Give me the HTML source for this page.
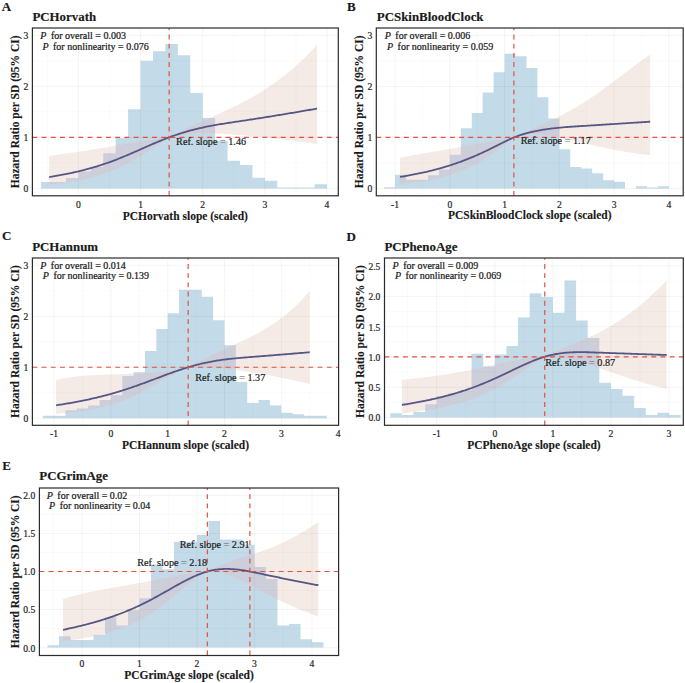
<!DOCTYPE html>
<html><head><meta charset="utf-8"><style>
html,body{margin:0;padding:0;background:#fff;}
svg{display:block;}
</style></head><body>
<svg width="685" height="683" viewBox="0 0 685 683">
<rect width="685" height="683" fill="#ffffff"/>
<clipPath id="clip0"><rect x="32.4" y="28" width="305.9" height="167.8"/></clipPath>
<g clip-path="url(#clip0)">
<path d="M41.11 188.4V182.02H53.54V188.4ZM53.54 188.4V182.02H65.97V188.4ZM65.97 188.4V177.94H78.4V188.4ZM78.4 188.4V171.56H90.83V188.4ZM90.83 188.4V166.97H103.26V188.4ZM103.26 188.4V153.19H115.69V188.4ZM115.69 188.4V137.88H128.12V188.4ZM128.12 188.4V109.3H140.55V188.4ZM140.55 188.4V60.83H152.98V188.4ZM152.98 188.4V51.13H165.41V188.4ZM165.41 188.4V43.99H177.84V188.4ZM177.84 188.4V55.21H190.27V188.4ZM190.27 188.4V92.97H202.7V188.4ZM202.7 188.4V117.98H215.13V188.4ZM215.13 188.4V140.94H227.56V188.4ZM227.56 188.4V160.84H239.99V188.4ZM239.99 188.4V164.93H252.42V188.4ZM252.42 188.4V177.68H264.85V188.4ZM264.85 188.4V180.75H277.28V188.4ZM277.28 188.4V187.38H289.71V188.4ZM289.71 188.4V187.38H302.14V188.4ZM302.14 188.4V187.38H314.57V188.4ZM314.57 188.4V184.32H327V188.4Z" fill="#c3dae8"/>
<clipPath id="bars0"><path d="M41.11 188.4V182.02H53.54V188.4ZM53.54 188.4V182.02H65.97V188.4ZM65.97 188.4V177.94H78.4V188.4ZM78.4 188.4V171.56H90.83V188.4ZM90.83 188.4V166.97H103.26V188.4ZM103.26 188.4V153.19H115.69V188.4ZM115.69 188.4V137.88H128.12V188.4ZM128.12 188.4V109.3H140.55V188.4ZM140.55 188.4V60.83H152.98V188.4ZM152.98 188.4V51.13H165.41V188.4ZM165.41 188.4V43.99H177.84V188.4ZM177.84 188.4V55.21H190.27V188.4ZM190.27 188.4V92.97H202.7V188.4ZM202.7 188.4V117.98H215.13V188.4ZM215.13 188.4V140.94H227.56V188.4ZM227.56 188.4V160.84H239.99V188.4ZM239.99 188.4V164.93H252.42V188.4ZM252.42 188.4V177.68H264.85V188.4ZM264.85 188.4V180.75H277.28V188.4ZM277.28 188.4V187.38H289.71V188.4ZM289.71 188.4V187.38H302.14V188.4ZM302.14 188.4V187.38H314.57V188.4ZM314.57 188.4V184.32H327V188.4Z"/></clipPath>
<polygon points="49.19,156.05 50.54,155.84 51.88,155.63 53.23,155.42 54.57,155.22 55.92,155.01 57.27,154.81 58.61,154.61 59.96,154.4 61.3,154.2 62.65,154 64,153.8 65.34,153.61 66.69,153.41 68.03,153.21 69.38,153.01 70.73,152.82 72.07,152.62 73.42,152.42 74.76,152.23 76.11,152.03 77.46,151.83 78.8,151.64 80.15,151.44 81.5,151.24 82.84,151.04 84.19,150.84 85.53,150.64 86.88,150.43 88.23,150.23 89.57,150.03 90.92,149.82 92.26,149.61 93.61,149.4 94.96,149.19 96.3,148.97 97.65,148.76 98.99,148.54 100.34,148.32 101.69,148.09 103.03,147.87 104.38,147.64 105.72,147.41 107.07,147.18 108.42,146.94 109.76,146.71 111.11,146.47 112.45,146.23 113.8,146 115.15,145.76 116.49,145.51 117.84,145.27 119.18,145.03 120.53,144.79 121.88,144.55 123.22,144.3 124.57,144.06 125.92,143.82 127.26,143.58 128.61,143.34 129.95,143.1 131.3,142.86 132.65,142.62 133.99,142.39 135.34,142.15 136.68,141.92 138.03,141.69 139.38,141.46 140.72,141.24 142.07,141.01 143.41,140.8 144.76,140.58 146.11,140.37 147.45,140.16 148.8,139.95 150.14,139.75 151.49,139.55 152.84,139.36 154.18,139.17 155.53,138.99 156.87,138.81 158.22,138.64 159.57,138.47 160.91,138.31 162.26,138.14 163.6,137.99 164.95,137.83 166.3,137.68 167.64,137.53 168.99,137.39 169.14,137.37 170.34,136.75 171.68,136.06 173.03,135.37 174.37,134.68 175.72,134 177.07,133.32 178.41,132.64 179.76,131.97 181.1,131.3 182.45,130.63 183.8,129.97 185.14,129.31 186.49,128.66 187.83,128.01 189.18,127.36 190.53,126.72 191.87,126.08 193.22,125.44 194.56,124.81 195.91,124.18 197.26,123.55 198.6,122.92 199.95,122.3 201.29,121.68 202.64,121.07 203.99,120.45 205.33,119.84 206.68,119.23 208.02,118.61 209.37,118.01 210.72,117.4 212.06,116.79 213.41,116.18 214.76,115.58 216.1,114.97 217.45,114.36 218.79,113.75 220.14,113.14 221.49,112.53 222.83,111.91 224.18,111.29 225.52,110.67 226.87,110.05 228.22,109.42 229.56,108.79 230.91,108.15 232.25,107.51 233.6,106.86 234.95,106.21 236.29,105.55 237.64,104.88 238.98,104.2 240.33,103.52 241.68,102.82 243.02,102.12 244.37,101.41 245.71,100.69 247.06,99.96 248.41,99.23 249.75,98.48 251.1,97.72 252.44,96.96 253.79,96.18 255.14,95.4 256.48,94.6 257.83,93.79 259.18,92.98 260.52,92.15 261.87,91.31 263.21,90.46 264.56,89.6 265.91,88.73 267.25,87.85 268.6,86.95 269.94,86.04 271.29,85.12 272.64,84.19 273.98,83.25 275.33,82.29 276.67,81.32 278.02,80.33 279.37,79.33 280.71,78.32 282.06,77.29 283.4,76.25 284.75,75.2 286.1,74.13 287.44,73.04 288.79,71.94 290.13,70.82 291.48,69.69 292.83,68.54 294.17,67.37 295.52,66.18 296.87,64.98 298.21,63.76 299.56,62.52 300.9,61.27 302.25,59.99 303.6,58.7 304.94,57.39 306.29,56.05 307.63,54.7 308.98,53.33 310.33,51.93 311.67,50.51 313.02,49.08 314.36,47.62 315.71,46.13 317.06,44.63 317.06,144.07 315.71,143.87 314.36,143.67 313.02,143.47 311.67,143.28 310.33,143.08 308.98,142.89 307.63,142.7 306.29,142.5 304.94,142.32 303.6,142.13 302.25,141.94 300.9,141.76 299.56,141.57 298.21,141.39 296.87,141.21 295.52,141.03 294.17,140.86 292.83,140.68 291.48,140.51 290.13,140.33 288.79,140.16 287.44,139.99 286.1,139.83 284.75,139.66 283.4,139.5 282.06,139.33 280.71,139.17 279.37,139.01 278.02,138.85 276.67,138.7 275.33,138.54 273.98,138.39 272.64,138.24 271.29,138.09 269.94,137.94 268.6,137.79 267.25,137.65 265.91,137.51 264.56,137.36 263.21,137.22 261.87,137.09 260.52,136.95 259.18,136.81 257.83,136.68 256.48,136.55 255.14,136.42 253.79,136.29 252.44,136.16 251.1,136.04 249.75,135.91 248.41,135.79 247.06,135.67 245.71,135.55 244.37,135.43 243.02,135.31 241.68,135.2 240.33,135.09 238.98,134.97 237.64,134.86 236.29,134.76 234.95,134.65 233.6,134.54 232.25,134.44 230.91,134.34 229.56,134.25 228.22,134.15 226.87,134.07 225.52,133.98 224.18,133.9 222.83,133.82 221.49,133.75 220.14,133.68 218.79,133.62 217.45,133.56 216.1,133.51 214.76,133.47 213.41,133.43 212.06,133.4 210.72,133.38 209.37,133.36 208.02,133.35 206.68,133.35 205.33,133.36 203.99,133.37 202.64,133.39 201.29,133.43 199.95,133.47 198.6,133.52 197.26,133.58 195.91,133.65 194.56,133.73 193.22,133.82 191.87,133.92 190.53,134.04 189.18,134.16 187.83,134.29 186.49,134.44 185.14,134.6 183.8,134.76 182.45,134.94 181.1,135.14 179.76,135.34 178.41,135.56 177.07,135.79 175.72,136.03 174.37,136.28 173.03,136.54 171.68,136.82 170.34,137.1 169.14,137.37 168.99,137.47 167.64,138.32 166.3,139.19 164.95,140.07 163.6,140.95 162.26,141.83 160.91,142.72 159.57,143.62 158.22,144.51 156.87,145.41 155.53,146.31 154.18,147.21 152.84,148.11 151.49,149 150.14,149.9 148.8,150.78 147.45,151.67 146.11,152.54 144.76,153.41 143.41,154.27 142.07,155.13 140.72,155.97 139.38,156.8 138.03,157.63 136.68,158.44 135.34,159.24 133.99,160.02 132.65,160.8 131.3,161.56 129.95,162.3 128.61,163.04 127.26,163.75 125.92,164.46 124.57,165.15 123.22,165.82 121.88,166.48 120.53,167.13 119.18,167.76 117.84,168.38 116.49,168.98 115.15,169.56 113.8,170.13 112.45,170.69 111.11,171.23 109.76,171.76 108.42,172.27 107.07,172.77 105.72,173.26 104.38,173.73 103.03,174.19 101.69,174.63 100.34,175.06 98.99,175.48 97.65,175.89 96.3,176.28 94.96,176.66 93.61,177.03 92.26,177.39 90.92,177.74 89.57,178.07 88.23,178.4 86.88,178.72 85.53,179.02 84.19,179.32 82.84,179.61 81.5,179.88 80.15,180.15 78.8,180.41 77.46,180.66 76.11,180.91 74.76,181.14 73.42,181.37 72.07,181.59 70.73,181.81 69.38,182.01 68.03,182.21 66.69,182.41 65.34,182.6 64,182.78 62.65,182.95 61.3,183.12 59.96,183.29 58.61,183.44 57.27,183.6 55.92,183.75 54.57,183.89 53.23,184.03 51.88,184.16 50.54,184.29 49.19,184.42" fill="#f5ebe6"/>
<polygon points="49.19,156.05 50.54,155.84 51.88,155.63 53.23,155.42 54.57,155.22 55.92,155.01 57.27,154.81 58.61,154.61 59.96,154.4 61.3,154.2 62.65,154 64,153.8 65.34,153.61 66.69,153.41 68.03,153.21 69.38,153.01 70.73,152.82 72.07,152.62 73.42,152.42 74.76,152.23 76.11,152.03 77.46,151.83 78.8,151.64 80.15,151.44 81.5,151.24 82.84,151.04 84.19,150.84 85.53,150.64 86.88,150.43 88.23,150.23 89.57,150.03 90.92,149.82 92.26,149.61 93.61,149.4 94.96,149.19 96.3,148.97 97.65,148.76 98.99,148.54 100.34,148.32 101.69,148.09 103.03,147.87 104.38,147.64 105.72,147.41 107.07,147.18 108.42,146.94 109.76,146.71 111.11,146.47 112.45,146.23 113.8,146 115.15,145.76 116.49,145.51 117.84,145.27 119.18,145.03 120.53,144.79 121.88,144.55 123.22,144.3 124.57,144.06 125.92,143.82 127.26,143.58 128.61,143.34 129.95,143.1 131.3,142.86 132.65,142.62 133.99,142.39 135.34,142.15 136.68,141.92 138.03,141.69 139.38,141.46 140.72,141.24 142.07,141.01 143.41,140.8 144.76,140.58 146.11,140.37 147.45,140.16 148.8,139.95 150.14,139.75 151.49,139.55 152.84,139.36 154.18,139.17 155.53,138.99 156.87,138.81 158.22,138.64 159.57,138.47 160.91,138.31 162.26,138.14 163.6,137.99 164.95,137.83 166.3,137.68 167.64,137.53 168.99,137.39 169.14,137.37 170.34,136.75 171.68,136.06 173.03,135.37 174.37,134.68 175.72,134 177.07,133.32 178.41,132.64 179.76,131.97 181.1,131.3 182.45,130.63 183.8,129.97 185.14,129.31 186.49,128.66 187.83,128.01 189.18,127.36 190.53,126.72 191.87,126.08 193.22,125.44 194.56,124.81 195.91,124.18 197.26,123.55 198.6,122.92 199.95,122.3 201.29,121.68 202.64,121.07 203.99,120.45 205.33,119.84 206.68,119.23 208.02,118.61 209.37,118.01 210.72,117.4 212.06,116.79 213.41,116.18 214.76,115.58 216.1,114.97 217.45,114.36 218.79,113.75 220.14,113.14 221.49,112.53 222.83,111.91 224.18,111.29 225.52,110.67 226.87,110.05 228.22,109.42 229.56,108.79 230.91,108.15 232.25,107.51 233.6,106.86 234.95,106.21 236.29,105.55 237.64,104.88 238.98,104.2 240.33,103.52 241.68,102.82 243.02,102.12 244.37,101.41 245.71,100.69 247.06,99.96 248.41,99.23 249.75,98.48 251.1,97.72 252.44,96.96 253.79,96.18 255.14,95.4 256.48,94.6 257.83,93.79 259.18,92.98 260.52,92.15 261.87,91.31 263.21,90.46 264.56,89.6 265.91,88.73 267.25,87.85 268.6,86.95 269.94,86.04 271.29,85.12 272.64,84.19 273.98,83.25 275.33,82.29 276.67,81.32 278.02,80.33 279.37,79.33 280.71,78.32 282.06,77.29 283.4,76.25 284.75,75.2 286.1,74.13 287.44,73.04 288.79,71.94 290.13,70.82 291.48,69.69 292.83,68.54 294.17,67.37 295.52,66.18 296.87,64.98 298.21,63.76 299.56,62.52 300.9,61.27 302.25,59.99 303.6,58.7 304.94,57.39 306.29,56.05 307.63,54.7 308.98,53.33 310.33,51.93 311.67,50.51 313.02,49.08 314.36,47.62 315.71,46.13 317.06,44.63 317.06,144.07 315.71,143.87 314.36,143.67 313.02,143.47 311.67,143.28 310.33,143.08 308.98,142.89 307.63,142.7 306.29,142.5 304.94,142.32 303.6,142.13 302.25,141.94 300.9,141.76 299.56,141.57 298.21,141.39 296.87,141.21 295.52,141.03 294.17,140.86 292.83,140.68 291.48,140.51 290.13,140.33 288.79,140.16 287.44,139.99 286.1,139.83 284.75,139.66 283.4,139.5 282.06,139.33 280.71,139.17 279.37,139.01 278.02,138.85 276.67,138.7 275.33,138.54 273.98,138.39 272.64,138.24 271.29,138.09 269.94,137.94 268.6,137.79 267.25,137.65 265.91,137.51 264.56,137.36 263.21,137.22 261.87,137.09 260.52,136.95 259.18,136.81 257.83,136.68 256.48,136.55 255.14,136.42 253.79,136.29 252.44,136.16 251.1,136.04 249.75,135.91 248.41,135.79 247.06,135.67 245.71,135.55 244.37,135.43 243.02,135.31 241.68,135.2 240.33,135.09 238.98,134.97 237.64,134.86 236.29,134.76 234.95,134.65 233.6,134.54 232.25,134.44 230.91,134.34 229.56,134.25 228.22,134.15 226.87,134.07 225.52,133.98 224.18,133.9 222.83,133.82 221.49,133.75 220.14,133.68 218.79,133.62 217.45,133.56 216.1,133.51 214.76,133.47 213.41,133.43 212.06,133.4 210.72,133.38 209.37,133.36 208.02,133.35 206.68,133.35 205.33,133.36 203.99,133.37 202.64,133.39 201.29,133.43 199.95,133.47 198.6,133.52 197.26,133.58 195.91,133.65 194.56,133.73 193.22,133.82 191.87,133.92 190.53,134.04 189.18,134.16 187.83,134.29 186.49,134.44 185.14,134.6 183.8,134.76 182.45,134.94 181.1,135.14 179.76,135.34 178.41,135.56 177.07,135.79 175.72,136.03 174.37,136.28 173.03,136.54 171.68,136.82 170.34,137.1 169.14,137.37 168.99,137.47 167.64,138.32 166.3,139.19 164.95,140.07 163.6,140.95 162.26,141.83 160.91,142.72 159.57,143.62 158.22,144.51 156.87,145.41 155.53,146.31 154.18,147.21 152.84,148.11 151.49,149 150.14,149.9 148.8,150.78 147.45,151.67 146.11,152.54 144.76,153.41 143.41,154.27 142.07,155.13 140.72,155.97 139.38,156.8 138.03,157.63 136.68,158.44 135.34,159.24 133.99,160.02 132.65,160.8 131.3,161.56 129.95,162.3 128.61,163.04 127.26,163.75 125.92,164.46 124.57,165.15 123.22,165.82 121.88,166.48 120.53,167.13 119.18,167.76 117.84,168.38 116.49,168.98 115.15,169.56 113.8,170.13 112.45,170.69 111.11,171.23 109.76,171.76 108.42,172.27 107.07,172.77 105.72,173.26 104.38,173.73 103.03,174.19 101.69,174.63 100.34,175.06 98.99,175.48 97.65,175.89 96.3,176.28 94.96,176.66 93.61,177.03 92.26,177.39 90.92,177.74 89.57,178.07 88.23,178.4 86.88,178.72 85.53,179.02 84.19,179.32 82.84,179.61 81.5,179.88 80.15,180.15 78.8,180.41 77.46,180.66 76.11,180.91 74.76,181.14 73.42,181.37 72.07,181.59 70.73,181.81 69.38,182.01 68.03,182.21 66.69,182.41 65.34,182.6 64,182.78 62.65,182.95 61.3,183.12 59.96,183.29 58.61,183.44 57.27,183.6 55.92,183.75 54.57,183.89 53.23,184.03 51.88,184.16 50.54,184.29 49.19,184.42" fill="#ccceda" stroke="#ccceda" stroke-width="0.5" clip-path="url(#bars0)"/>
<clipPath id="bandc0"><polygon points="49.19,156.05 50.54,155.84 51.88,155.63 53.23,155.42 54.57,155.22 55.92,155.01 57.27,154.81 58.61,154.61 59.96,154.4 61.3,154.2 62.65,154 64,153.8 65.34,153.61 66.69,153.41 68.03,153.21 69.38,153.01 70.73,152.82 72.07,152.62 73.42,152.42 74.76,152.23 76.11,152.03 77.46,151.83 78.8,151.64 80.15,151.44 81.5,151.24 82.84,151.04 84.19,150.84 85.53,150.64 86.88,150.43 88.23,150.23 89.57,150.03 90.92,149.82 92.26,149.61 93.61,149.4 94.96,149.19 96.3,148.97 97.65,148.76 98.99,148.54 100.34,148.32 101.69,148.09 103.03,147.87 104.38,147.64 105.72,147.41 107.07,147.18 108.42,146.94 109.76,146.71 111.11,146.47 112.45,146.23 113.8,146 115.15,145.76 116.49,145.51 117.84,145.27 119.18,145.03 120.53,144.79 121.88,144.55 123.22,144.3 124.57,144.06 125.92,143.82 127.26,143.58 128.61,143.34 129.95,143.1 131.3,142.86 132.65,142.62 133.99,142.39 135.34,142.15 136.68,141.92 138.03,141.69 139.38,141.46 140.72,141.24 142.07,141.01 143.41,140.8 144.76,140.58 146.11,140.37 147.45,140.16 148.8,139.95 150.14,139.75 151.49,139.55 152.84,139.36 154.18,139.17 155.53,138.99 156.87,138.81 158.22,138.64 159.57,138.47 160.91,138.31 162.26,138.14 163.6,137.99 164.95,137.83 166.3,137.68 167.64,137.53 168.99,137.39 169.14,137.37 170.34,136.75 171.68,136.06 173.03,135.37 174.37,134.68 175.72,134 177.07,133.32 178.41,132.64 179.76,131.97 181.1,131.3 182.45,130.63 183.8,129.97 185.14,129.31 186.49,128.66 187.83,128.01 189.18,127.36 190.53,126.72 191.87,126.08 193.22,125.44 194.56,124.81 195.91,124.18 197.26,123.55 198.6,122.92 199.95,122.3 201.29,121.68 202.64,121.07 203.99,120.45 205.33,119.84 206.68,119.23 208.02,118.61 209.37,118.01 210.72,117.4 212.06,116.79 213.41,116.18 214.76,115.58 216.1,114.97 217.45,114.36 218.79,113.75 220.14,113.14 221.49,112.53 222.83,111.91 224.18,111.29 225.52,110.67 226.87,110.05 228.22,109.42 229.56,108.79 230.91,108.15 232.25,107.51 233.6,106.86 234.95,106.21 236.29,105.55 237.64,104.88 238.98,104.2 240.33,103.52 241.68,102.82 243.02,102.12 244.37,101.41 245.71,100.69 247.06,99.96 248.41,99.23 249.75,98.48 251.1,97.72 252.44,96.96 253.79,96.18 255.14,95.4 256.48,94.6 257.83,93.79 259.18,92.98 260.52,92.15 261.87,91.31 263.21,90.46 264.56,89.6 265.91,88.73 267.25,87.85 268.6,86.95 269.94,86.04 271.29,85.12 272.64,84.19 273.98,83.25 275.33,82.29 276.67,81.32 278.02,80.33 279.37,79.33 280.71,78.32 282.06,77.29 283.4,76.25 284.75,75.2 286.1,74.13 287.44,73.04 288.79,71.94 290.13,70.82 291.48,69.69 292.83,68.54 294.17,67.37 295.52,66.18 296.87,64.98 298.21,63.76 299.56,62.52 300.9,61.27 302.25,59.99 303.6,58.7 304.94,57.39 306.29,56.05 307.63,54.7 308.98,53.33 310.33,51.93 311.67,50.51 313.02,49.08 314.36,47.62 315.71,46.13 317.06,44.63 317.06,144.07 315.71,143.87 314.36,143.67 313.02,143.47 311.67,143.28 310.33,143.08 308.98,142.89 307.63,142.7 306.29,142.5 304.94,142.32 303.6,142.13 302.25,141.94 300.9,141.76 299.56,141.57 298.21,141.39 296.87,141.21 295.52,141.03 294.17,140.86 292.83,140.68 291.48,140.51 290.13,140.33 288.79,140.16 287.44,139.99 286.1,139.83 284.75,139.66 283.4,139.5 282.06,139.33 280.71,139.17 279.37,139.01 278.02,138.85 276.67,138.7 275.33,138.54 273.98,138.39 272.64,138.24 271.29,138.09 269.94,137.94 268.6,137.79 267.25,137.65 265.91,137.51 264.56,137.36 263.21,137.22 261.87,137.09 260.52,136.95 259.18,136.81 257.83,136.68 256.48,136.55 255.14,136.42 253.79,136.29 252.44,136.16 251.1,136.04 249.75,135.91 248.41,135.79 247.06,135.67 245.71,135.55 244.37,135.43 243.02,135.31 241.68,135.2 240.33,135.09 238.98,134.97 237.64,134.86 236.29,134.76 234.95,134.65 233.6,134.54 232.25,134.44 230.91,134.34 229.56,134.25 228.22,134.15 226.87,134.07 225.52,133.98 224.18,133.9 222.83,133.82 221.49,133.75 220.14,133.68 218.79,133.62 217.45,133.56 216.1,133.51 214.76,133.47 213.41,133.43 212.06,133.4 210.72,133.38 209.37,133.36 208.02,133.35 206.68,133.35 205.33,133.36 203.99,133.37 202.64,133.39 201.29,133.43 199.95,133.47 198.6,133.52 197.26,133.58 195.91,133.65 194.56,133.73 193.22,133.82 191.87,133.92 190.53,134.04 189.18,134.16 187.83,134.29 186.49,134.44 185.14,134.6 183.8,134.76 182.45,134.94 181.1,135.14 179.76,135.34 178.41,135.56 177.07,135.79 175.72,136.03 174.37,136.28 173.03,136.54 171.68,136.82 170.34,137.1 169.14,137.37 168.99,137.47 167.64,138.32 166.3,139.19 164.95,140.07 163.6,140.95 162.26,141.83 160.91,142.72 159.57,143.62 158.22,144.51 156.87,145.41 155.53,146.31 154.18,147.21 152.84,148.11 151.49,149 150.14,149.9 148.8,150.78 147.45,151.67 146.11,152.54 144.76,153.41 143.41,154.27 142.07,155.13 140.72,155.97 139.38,156.8 138.03,157.63 136.68,158.44 135.34,159.24 133.99,160.02 132.65,160.8 131.3,161.56 129.95,162.3 128.61,163.04 127.26,163.75 125.92,164.46 124.57,165.15 123.22,165.82 121.88,166.48 120.53,167.13 119.18,167.76 117.84,168.38 116.49,168.98 115.15,169.56 113.8,170.13 112.45,170.69 111.11,171.23 109.76,171.76 108.42,172.27 107.07,172.77 105.72,173.26 104.38,173.73 103.03,174.19 101.69,174.63 100.34,175.06 98.99,175.48 97.65,175.89 96.3,176.28 94.96,176.66 93.61,177.03 92.26,177.39 90.92,177.74 89.57,178.07 88.23,178.4 86.88,178.72 85.53,179.02 84.19,179.32 82.84,179.61 81.5,179.88 80.15,180.15 78.8,180.41 77.46,180.66 76.11,180.91 74.76,181.14 73.42,181.37 72.07,181.59 70.73,181.81 69.38,182.01 68.03,182.21 66.69,182.41 65.34,182.6 64,182.78 62.65,182.95 61.3,183.12 59.96,183.29 58.61,183.44 57.27,183.6 55.92,183.75 54.57,183.89 53.23,184.03 51.88,184.16 50.54,184.29 49.19,184.42"/></clipPath>
<line x1="47.33" y1="28" x2="47.33" y2="195.8" stroke="#000" stroke-opacity="0.035" stroke-width="0.6"/>
<line x1="109.48" y1="28" x2="109.48" y2="195.8" stroke="#000" stroke-opacity="0.035" stroke-width="0.6"/>
<line x1="171.62" y1="28" x2="171.62" y2="195.8" stroke="#000" stroke-opacity="0.035" stroke-width="0.6"/>
<line x1="233.78" y1="28" x2="233.78" y2="195.8" stroke="#000" stroke-opacity="0.035" stroke-width="0.6"/>
<line x1="295.93" y1="28" x2="295.93" y2="195.8" stroke="#000" stroke-opacity="0.035" stroke-width="0.6"/>
<line x1="32.4" y1="162.88" x2="338.3" y2="162.88" stroke="#000" stroke-opacity="0.035" stroke-width="0.6"/>
<line x1="32.4" y1="111.86" x2="338.3" y2="111.86" stroke="#000" stroke-opacity="0.035" stroke-width="0.6"/>
<line x1="32.4" y1="60.83" x2="338.3" y2="60.83" stroke="#000" stroke-opacity="0.035" stroke-width="0.6"/>
<line x1="78.4" y1="28" x2="78.4" y2="195.8" stroke="#000" stroke-opacity="0.06" stroke-width="0.8"/>
<line x1="140.55" y1="28" x2="140.55" y2="195.8" stroke="#000" stroke-opacity="0.06" stroke-width="0.8"/>
<line x1="202.7" y1="28" x2="202.7" y2="195.8" stroke="#000" stroke-opacity="0.06" stroke-width="0.8"/>
<line x1="264.85" y1="28" x2="264.85" y2="195.8" stroke="#000" stroke-opacity="0.06" stroke-width="0.8"/>
<line x1="327" y1="28" x2="327" y2="195.8" stroke="#000" stroke-opacity="0.06" stroke-width="0.8"/>
<line x1="32.4" y1="188.4" x2="338.3" y2="188.4" stroke="#000" stroke-opacity="0.06" stroke-width="0.8"/>
<line x1="32.4" y1="137.37" x2="338.3" y2="137.37" stroke="#000" stroke-opacity="0.06" stroke-width="0.8"/>
<line x1="32.4" y1="86.34" x2="338.3" y2="86.34" stroke="#000" stroke-opacity="0.06" stroke-width="0.8"/>
<line x1="32.4" y1="35.31" x2="338.3" y2="35.31" stroke="#000" stroke-opacity="0.06" stroke-width="0.8"/>
<polyline points="49.19,177.05 50.54,176.83 51.88,176.61 53.23,176.39 54.57,176.16 55.92,175.93 57.27,175.7 58.61,175.46 59.96,175.21 61.3,174.96 62.65,174.71 64,174.45 65.34,174.19 66.69,173.92 68.03,173.65 69.38,173.37 70.73,173.08 72.07,172.79 73.42,172.5 74.76,172.2 76.11,171.89 77.46,171.58 78.8,171.26 80.15,170.94 81.5,170.61 82.84,170.27 84.19,169.93 85.53,169.58 86.88,169.23 88.23,168.86 89.57,168.49 90.92,168.12 92.26,167.74 93.61,167.35 94.96,166.95 96.3,166.54 97.65,166.13 98.99,165.71 100.34,165.28 101.69,164.84 103.03,164.4 104.38,163.95 105.72,163.49 107.07,163.02 108.42,162.54 109.76,162.06 111.11,161.57 112.45,161.07 113.8,160.57 115.15,160.06 116.49,159.54 117.84,159.01 119.18,158.48 120.53,157.94 121.88,157.4 123.22,156.85 124.57,156.29 125.92,155.73 127.26,155.16 128.61,154.59 129.95,154.02 131.3,153.44 132.65,152.85 133.99,152.26 135.34,151.67 136.68,151.08 138.03,150.49 139.38,149.89 140.72,149.29 142.07,148.69 143.41,148.09 144.76,147.5 146.11,146.9 147.45,146.3 148.8,145.71 150.14,145.12 151.49,144.53 152.84,143.95 154.18,143.37 155.53,142.8 156.87,142.23 158.22,141.67 159.57,141.11 160.91,140.57 162.26,140.02 163.6,139.49 164.95,138.96 166.3,138.44 167.64,137.93 168.99,137.43 169.14,137.37 170.34,136.93 171.68,136.44 173.03,135.96 174.37,135.49 175.72,135.02 177.07,134.57 178.41,134.12 179.76,133.68 181.1,133.25 182.45,132.83 183.8,132.42 185.14,132.02 186.49,131.62 187.83,131.24 189.18,130.86 190.53,130.49 191.87,130.13 193.22,129.78 194.56,129.44 195.91,129.1 197.26,128.77 198.6,128.46 199.95,128.14 201.29,127.84 202.64,127.54 203.99,127.25 205.33,126.97 206.68,126.69 208.02,126.42 209.37,126.15 210.72,125.9 212.06,125.64 213.41,125.39 214.76,125.15 216.1,124.91 217.45,124.68 218.79,124.45 220.14,124.23 221.49,124.01 222.83,123.79 224.18,123.57 225.52,123.36 226.87,123.15 228.22,122.95 229.56,122.74 230.91,122.54 232.25,122.33 233.6,122.13 234.95,121.93 236.29,121.73 237.64,121.53 238.98,121.33 240.33,121.13 241.68,120.93 243.02,120.72 244.37,120.52 245.71,120.32 247.06,120.11 248.41,119.91 249.75,119.7 251.1,119.49 252.44,119.29 253.79,119.08 255.14,118.87 256.48,118.66 257.83,118.45 259.18,118.24 260.52,118.03 261.87,117.82 263.21,117.6 264.56,117.39 265.91,117.18 267.25,116.96 268.6,116.75 269.94,116.53 271.29,116.32 272.64,116.1 273.98,115.88 275.33,115.67 276.67,115.45 278.02,115.23 279.37,115.01 280.71,114.79 282.06,114.56 283.4,114.34 284.75,114.12 286.1,113.9 287.44,113.67 288.79,113.45 290.13,113.22 291.48,113 292.83,112.77 294.17,112.54 295.52,112.31 296.87,112.09 298.21,111.86 299.56,111.63 300.9,111.39 302.25,111.16 303.6,110.93 304.94,110.7 306.29,110.46 307.63,110.23 308.98,109.99 310.33,109.76 311.67,109.52 313.02,109.28 314.36,109.05 315.71,108.81 317.06,108.57" fill="none" stroke="#565684" stroke-width="1.8" stroke-linejoin="round"/>
<line x1="32.4" y1="137.37" x2="338.3" y2="137.37" stroke="#e2513f" stroke-width="1.2" stroke-dasharray="4.9 4.3"/>
<line x1="169.14" y1="195.8" x2="169.14" y2="28" stroke="#e2513f" stroke-width="1.2" stroke-dasharray="4.9 4.3"/>
</g>
<rect x="32.4" y="28" width="305.9" height="167.8" fill="none" stroke="#2b2b2b" stroke-width="1.2"/>
<text x="1.75" y="10.5" font-family='"Liberation Serif", serif' font-weight="bold" font-size="13" fill="#1a1a1a" stroke="#1a1a1a" stroke-width="0.15">A</text>
<text x="32.4" y="20.8" font-family='"Liberation Serif", serif' font-weight="bold" font-size="12.9" fill="#1a1a1a" stroke="#1a1a1a" stroke-width="0.15">PCHorvath</text>
<text x="40.3" y="39.4" font-family='"Liberation Serif", serif' font-size="10" fill="#1a1a1a" stroke="#1a1a1a" stroke-width="0.22"><tspan font-style="italic">P</tspan><tspan dx="2"> for</tspan> overall = 0.003</text>
<text x="42.4" y="49.9" font-family='"Liberation Serif", serif' font-size="10" fill="#1a1a1a" stroke="#1a1a1a" stroke-width="0.22"><tspan font-style="italic">P</tspan><tspan dx="2"> for</tspan> nonlinearity = 0.076</text>
<text x="176.1" y="144.7" font-family='"Liberation Serif", serif' font-size="10.2" fill="#1a1a1a" stroke="#1a1a1a" stroke-width="0.2">Ref. slope <tspan fill="#777" stroke="#777">=</tspan> 1.46</text>
<text x="78.4" y="207.5" text-anchor="middle" font-family='"Liberation Serif", serif' font-size="9.6" fill="#262626" stroke="#262626" stroke-width="0.2">0</text>
<text x="140.55" y="207.5" text-anchor="middle" font-family='"Liberation Serif", serif' font-size="9.6" fill="#262626" stroke="#262626" stroke-width="0.2">1</text>
<text x="202.7" y="207.5" text-anchor="middle" font-family='"Liberation Serif", serif' font-size="9.6" fill="#262626" stroke="#262626" stroke-width="0.2">2</text>
<text x="264.85" y="207.5" text-anchor="middle" font-family='"Liberation Serif", serif' font-size="9.6" fill="#262626" stroke="#262626" stroke-width="0.2">3</text>
<text x="327" y="207.5" text-anchor="middle" font-family='"Liberation Serif", serif' font-size="9.6" fill="#262626" stroke="#262626" stroke-width="0.2">4</text>
<text x="28.3" y="192.3" text-anchor="end" font-family='"Liberation Serif", serif' font-size="9.6" fill="#262626" stroke="#262626" stroke-width="0.2">0</text>
<text x="28.3" y="141.27" text-anchor="end" font-family='"Liberation Serif", serif' font-size="9.6" fill="#262626" stroke="#262626" stroke-width="0.2">1</text>
<text x="28.3" y="90.24" text-anchor="end" font-family='"Liberation Serif", serif' font-size="9.6" fill="#262626" stroke="#262626" stroke-width="0.2">2</text>
<text x="28.3" y="39.21" text-anchor="end" font-family='"Liberation Serif", serif' font-size="9.6" fill="#262626" stroke="#262626" stroke-width="0.2">3</text>
<text x="185.35" y="219.7" text-anchor="middle" font-family='"Liberation Serif", serif' font-weight="bold" font-size="11.5" fill="#1a1a1a" stroke="#1a1a1a" stroke-width="0.12">PCHorvath slope (scaled)</text>
<text transform="translate(18.9,111.9) rotate(-90)" text-anchor="middle" font-family='"Liberation Serif", serif' font-weight="bold" font-size="11.5" fill="#1a1a1a" stroke="#1a1a1a" stroke-width="0.12">Hazard Ratio per SD (95% CI)</text>
<clipPath id="clip1"><rect x="376.3" y="28" width="306.9" height="167.8"/></clipPath>
<g clip-path="url(#clip1)">
<path d="M384.15 188.5V187.22H395.1V188.5ZM395.1 188.5V174.72H406.05V188.5ZM406.05 188.5V179.82H417V188.5ZM417 188.5V179.82H427.94V188.5ZM427.94 188.5V175.23H438.89V188.5ZM438.89 188.5V169.62H449.84V188.5ZM449.84 188.5V154.82H460.79V188.5ZM460.79 188.5V128.28H471.74V188.5ZM471.74 188.5V112.98H482.68V188.5ZM482.68 188.5V92.56H493.63V188.5ZM493.63 188.5V72.15H504.58V188.5ZM504.58 188.5V53.78H515.53V188.5ZM515.53 188.5V56.33H526.48V188.5ZM526.48 188.5V68.07H537.42V188.5ZM537.42 188.5V97.16H548.37V188.5ZM548.37 188.5V118.59H559.32V188.5ZM559.32 188.5V149.21H570.27V188.5ZM570.27 188.5V167.07H581.22V188.5ZM581.22 188.5V168.6H592.16V188.5ZM592.16 188.5V173.19H603.11V188.5ZM603.11 188.5V180.34H614.06V188.5ZM614.06 188.5V181.87H625.01V188.5ZM635.96 188.5V186.2H646.9V188.5ZM646.9 188.5V187.48H657.85V188.5ZM657.85 188.5V186.2H668.8V188.5Z" fill="#c3dae8"/>
<clipPath id="bars1"><path d="M384.15 188.5V187.22H395.1V188.5ZM395.1 188.5V174.72H406.05V188.5ZM406.05 188.5V179.82H417V188.5ZM417 188.5V179.82H427.94V188.5ZM427.94 188.5V175.23H438.89V188.5ZM438.89 188.5V169.62H449.84V188.5ZM449.84 188.5V154.82H460.79V188.5ZM460.79 188.5V128.28H471.74V188.5ZM471.74 188.5V112.98H482.68V188.5ZM482.68 188.5V92.56H493.63V188.5ZM493.63 188.5V72.15H504.58V188.5ZM504.58 188.5V53.78H515.53V188.5ZM515.53 188.5V56.33H526.48V188.5ZM526.48 188.5V68.07H537.42V188.5ZM537.42 188.5V97.16H548.37V188.5ZM548.37 188.5V118.59H559.32V188.5ZM559.32 188.5V149.21H570.27V188.5ZM570.27 188.5V167.07H581.22V188.5ZM581.22 188.5V168.6H592.16V188.5ZM592.16 188.5V173.19H603.11V188.5ZM603.11 188.5V180.34H614.06V188.5ZM614.06 188.5V181.87H625.01V188.5ZM635.96 188.5V186.2H646.9V188.5ZM646.9 188.5V187.48H657.85V188.5ZM657.85 188.5V186.2H668.8V188.5Z"/></clipPath>
<polygon points="400.03,157.67 401.28,157.42 402.54,157.18 403.8,156.94 405.05,156.71 406.31,156.47 407.57,156.23 408.83,156 410.08,155.77 411.34,155.54 412.6,155.31 413.85,155.08 415.11,154.86 416.37,154.63 417.63,154.41 418.88,154.19 420.14,153.97 421.4,153.75 422.65,153.53 423.91,153.31 425.17,153.1 426.43,152.88 427.68,152.66 428.94,152.45 430.2,152.24 431.45,152.02 432.71,151.81 433.97,151.6 435.23,151.38 436.48,151.17 437.74,150.96 439,150.74 440.25,150.53 441.51,150.32 442.77,150.1 444.02,149.89 445.28,149.67 446.54,149.46 447.8,149.24 449.05,149.02 450.31,148.81 451.57,148.59 452.82,148.37 454.08,148.15 455.34,147.93 456.6,147.71 457.85,147.48 459.11,147.26 460.37,147.03 461.62,146.81 462.88,146.58 464.14,146.36 465.4,146.13 466.65,145.9 467.91,145.67 469.17,145.44 470.42,145.21 471.68,144.97 472.94,144.74 474.2,144.51 475.45,144.27 476.71,144.03 477.97,143.79 479.22,143.56 480.48,143.32 481.74,143.07 482.99,142.83 484.25,142.59 485.51,142.34 486.77,142.1 488.02,141.85 489.28,141.6 490.54,141.35 491.79,141.1 493.05,140.85 494.31,140.6 495.57,140.35 496.82,140.1 498.08,139.86 499.34,139.62 500.59,139.38 501.85,139.15 503.11,138.93 504.37,138.71 505.62,138.51 506.88,138.32 508.14,138.13 509.39,137.96 510.65,137.8 511.91,137.66 513.17,137.54 513.89,137.47 514.42,137.21 515.68,136.6 516.94,136 518.19,135.41 519.45,134.83 520.71,134.25 521.96,133.67 523.22,133.1 524.48,132.53 525.74,131.97 526.99,131.41 528.25,130.85 529.51,130.3 530.76,129.74 532.02,129.19 533.28,128.63 534.54,128.07 535.79,127.51 537.05,126.94 538.31,126.38 539.56,125.8 540.82,125.23 542.08,124.65 543.34,124.07 544.59,123.48 545.85,122.89 547.11,122.3 548.36,121.7 549.62,121.1 550.88,120.49 552.14,119.88 553.39,119.27 554.65,118.65 555.91,118.02 557.16,117.39 558.42,116.75 559.68,116.11 560.93,115.47 562.19,114.81 563.45,114.15 564.71,113.49 565.96,112.82 567.22,112.14 568.48,111.45 569.73,110.76 570.99,110.06 572.25,109.36 573.51,108.64 574.76,107.92 576.02,107.19 577.28,106.45 578.53,105.7 579.79,104.95 581.05,104.18 582.31,103.4 583.56,102.62 584.82,101.83 586.08,101.02 587.33,100.21 588.59,99.39 589.85,98.56 591.1,97.72 592.36,96.88 593.62,96.02 594.88,95.16 596.13,94.29 597.39,93.42 598.65,92.53 599.9,91.64 601.16,90.75 602.42,89.84 603.68,88.93 604.93,88.02 606.19,87.09 607.45,86.17 608.7,85.24 609.96,84.3 611.22,83.36 612.48,82.42 613.73,81.47 614.99,80.52 616.25,79.57 617.5,78.61 618.76,77.66 620.02,76.7 621.28,75.74 622.53,74.78 623.79,73.82 625.05,72.87 626.3,71.91 627.56,70.95 628.82,70 630.07,69.05 631.33,68.1 632.59,67.16 633.85,66.22 635.1,65.29 636.36,64.36 637.62,63.44 638.87,62.52 640.13,61.62 641.39,60.72 642.65,59.83 643.9,58.94 645.16,58.07 646.42,57.21 647.67,56.37 648.93,55.53 650.19,54.71 650.19,155.09 648.93,154.97 647.67,154.84 646.42,154.71 645.16,154.57 643.9,154.43 642.65,154.28 641.39,154.13 640.13,153.97 638.87,153.81 637.62,153.65 636.36,153.47 635.1,153.3 633.85,153.12 632.59,152.93 631.33,152.74 630.07,152.55 628.82,152.35 627.56,152.15 626.3,151.95 625.05,151.74 623.79,151.52 622.53,151.3 621.28,151.08 620.02,150.85 618.76,150.62 617.5,150.39 616.25,150.15 614.99,149.91 613.73,149.66 612.48,149.42 611.22,149.16 609.96,148.91 608.7,148.65 607.45,148.39 606.19,148.12 604.93,147.85 603.68,147.58 602.42,147.31 601.16,147.03 599.9,146.75 598.65,146.47 597.39,146.18 596.13,145.9 594.88,145.61 593.62,145.32 592.36,145.02 591.1,144.73 589.85,144.43 588.59,144.13 587.33,143.83 586.08,143.53 584.82,143.23 583.56,142.92 582.31,142.62 581.05,142.31 579.79,142 578.53,141.7 577.28,141.39 576.02,141.08 574.76,140.78 573.51,140.48 572.25,140.17 570.99,139.87 569.73,139.58 568.48,139.28 567.22,138.99 565.96,138.71 564.71,138.42 563.45,138.15 562.19,137.88 560.93,137.61 559.68,137.35 558.42,137.1 557.16,136.86 555.91,136.63 554.65,136.4 553.39,136.18 552.14,135.98 550.88,135.78 549.62,135.59 548.36,135.42 547.11,135.26 545.85,135.11 544.59,134.97 543.34,134.85 542.08,134.74 540.82,134.64 539.56,134.56 538.31,134.5 537.05,134.45 535.79,134.42 534.54,134.41 533.28,134.41 532.02,134.43 530.76,134.47 529.51,134.54 528.25,134.62 526.99,134.73 525.74,134.86 524.48,135.02 523.22,135.21 521.96,135.42 520.71,135.66 519.45,135.93 518.19,136.22 516.94,136.55 515.68,136.91 514.42,137.29 513.89,137.47 513.17,138 511.91,138.94 510.65,139.89 509.39,140.85 508.14,141.82 506.88,142.79 505.62,143.76 504.37,144.74 503.11,145.71 501.85,146.69 500.59,147.65 499.34,148.61 498.08,149.57 496.82,150.51 495.57,151.44 494.31,152.36 493.05,153.26 491.79,154.15 490.54,155.03 489.28,155.89 488.02,156.73 486.77,157.56 485.51,158.37 484.25,159.17 482.99,159.95 481.74,160.71 480.48,161.46 479.22,162.19 477.97,162.91 476.71,163.61 475.45,164.29 474.2,164.96 472.94,165.61 471.68,166.25 470.42,166.87 469.17,167.47 467.91,168.07 466.65,168.64 465.4,169.2 464.14,169.75 462.88,170.29 461.62,170.8 460.37,171.31 459.11,171.8 457.85,172.28 456.6,172.75 455.34,173.2 454.08,173.64 452.82,174.07 451.57,174.49 450.31,174.89 449.05,175.29 447.8,175.67 446.54,176.04 445.28,176.4 444.02,176.75 442.77,177.09 441.51,177.42 440.25,177.74 439,178.05 437.74,178.35 436.48,178.64 435.23,178.93 433.97,179.2 432.71,179.47 431.45,179.73 430.2,179.98 428.94,180.22 427.68,180.46 426.43,180.68 425.17,180.91 423.91,181.12 422.65,181.33 421.4,181.53 420.14,181.73 418.88,181.92 417.63,182.1 416.37,182.28 415.11,182.45 413.85,182.62 412.6,182.79 411.34,182.94 410.08,183.1 408.83,183.24 407.57,183.39 406.31,183.53 405.05,183.66 403.8,183.79 402.54,183.92 401.28,184.04 400.03,184.16" fill="#f5ebe6"/>
<polygon points="400.03,157.67 401.28,157.42 402.54,157.18 403.8,156.94 405.05,156.71 406.31,156.47 407.57,156.23 408.83,156 410.08,155.77 411.34,155.54 412.6,155.31 413.85,155.08 415.11,154.86 416.37,154.63 417.63,154.41 418.88,154.19 420.14,153.97 421.4,153.75 422.65,153.53 423.91,153.31 425.17,153.1 426.43,152.88 427.68,152.66 428.94,152.45 430.2,152.24 431.45,152.02 432.71,151.81 433.97,151.6 435.23,151.38 436.48,151.17 437.74,150.96 439,150.74 440.25,150.53 441.51,150.32 442.77,150.1 444.02,149.89 445.28,149.67 446.54,149.46 447.8,149.24 449.05,149.02 450.31,148.81 451.57,148.59 452.82,148.37 454.08,148.15 455.34,147.93 456.6,147.71 457.85,147.48 459.11,147.26 460.37,147.03 461.62,146.81 462.88,146.58 464.14,146.36 465.4,146.13 466.65,145.9 467.91,145.67 469.17,145.44 470.42,145.21 471.68,144.97 472.94,144.74 474.2,144.51 475.45,144.27 476.71,144.03 477.97,143.79 479.22,143.56 480.48,143.32 481.74,143.07 482.99,142.83 484.25,142.59 485.51,142.34 486.77,142.1 488.02,141.85 489.28,141.6 490.54,141.35 491.79,141.1 493.05,140.85 494.31,140.6 495.57,140.35 496.82,140.1 498.08,139.86 499.34,139.62 500.59,139.38 501.85,139.15 503.11,138.93 504.37,138.71 505.62,138.51 506.88,138.32 508.14,138.13 509.39,137.96 510.65,137.8 511.91,137.66 513.17,137.54 513.89,137.47 514.42,137.21 515.68,136.6 516.94,136 518.19,135.41 519.45,134.83 520.71,134.25 521.96,133.67 523.22,133.1 524.48,132.53 525.74,131.97 526.99,131.41 528.25,130.85 529.51,130.3 530.76,129.74 532.02,129.19 533.28,128.63 534.54,128.07 535.79,127.51 537.05,126.94 538.31,126.38 539.56,125.8 540.82,125.23 542.08,124.65 543.34,124.07 544.59,123.48 545.85,122.89 547.11,122.3 548.36,121.7 549.62,121.1 550.88,120.49 552.14,119.88 553.39,119.27 554.65,118.65 555.91,118.02 557.16,117.39 558.42,116.75 559.68,116.11 560.93,115.47 562.19,114.81 563.45,114.15 564.71,113.49 565.96,112.82 567.22,112.14 568.48,111.45 569.73,110.76 570.99,110.06 572.25,109.36 573.51,108.64 574.76,107.92 576.02,107.19 577.28,106.45 578.53,105.7 579.79,104.95 581.05,104.18 582.31,103.4 583.56,102.62 584.82,101.83 586.08,101.02 587.33,100.21 588.59,99.39 589.85,98.56 591.1,97.72 592.36,96.88 593.62,96.02 594.88,95.16 596.13,94.29 597.39,93.42 598.65,92.53 599.9,91.64 601.16,90.75 602.42,89.84 603.68,88.93 604.93,88.02 606.19,87.09 607.45,86.17 608.7,85.24 609.96,84.3 611.22,83.36 612.48,82.42 613.73,81.47 614.99,80.52 616.25,79.57 617.5,78.61 618.76,77.66 620.02,76.7 621.28,75.74 622.53,74.78 623.79,73.82 625.05,72.87 626.3,71.91 627.56,70.95 628.82,70 630.07,69.05 631.33,68.1 632.59,67.16 633.85,66.22 635.1,65.29 636.36,64.36 637.62,63.44 638.87,62.52 640.13,61.62 641.39,60.72 642.65,59.83 643.9,58.94 645.16,58.07 646.42,57.21 647.67,56.37 648.93,55.53 650.19,54.71 650.19,155.09 648.93,154.97 647.67,154.84 646.42,154.71 645.16,154.57 643.9,154.43 642.65,154.28 641.39,154.13 640.13,153.97 638.87,153.81 637.62,153.65 636.36,153.47 635.1,153.3 633.85,153.12 632.59,152.93 631.33,152.74 630.07,152.55 628.82,152.35 627.56,152.15 626.3,151.95 625.05,151.74 623.79,151.52 622.53,151.3 621.28,151.08 620.02,150.85 618.76,150.62 617.5,150.39 616.25,150.15 614.99,149.91 613.73,149.66 612.48,149.42 611.22,149.16 609.96,148.91 608.7,148.65 607.45,148.39 606.19,148.12 604.93,147.85 603.68,147.58 602.42,147.31 601.16,147.03 599.9,146.75 598.65,146.47 597.39,146.18 596.13,145.9 594.88,145.61 593.62,145.32 592.36,145.02 591.1,144.73 589.85,144.43 588.59,144.13 587.33,143.83 586.08,143.53 584.82,143.23 583.56,142.92 582.31,142.62 581.05,142.31 579.79,142 578.53,141.7 577.28,141.39 576.02,141.08 574.76,140.78 573.51,140.48 572.25,140.17 570.99,139.87 569.73,139.58 568.48,139.28 567.22,138.99 565.96,138.71 564.71,138.42 563.45,138.15 562.19,137.88 560.93,137.61 559.68,137.35 558.42,137.1 557.16,136.86 555.91,136.63 554.65,136.4 553.39,136.18 552.14,135.98 550.88,135.78 549.62,135.59 548.36,135.42 547.11,135.26 545.85,135.11 544.59,134.97 543.34,134.85 542.08,134.74 540.82,134.64 539.56,134.56 538.31,134.5 537.05,134.45 535.79,134.42 534.54,134.41 533.28,134.41 532.02,134.43 530.76,134.47 529.51,134.54 528.25,134.62 526.99,134.73 525.74,134.86 524.48,135.02 523.22,135.21 521.96,135.42 520.71,135.66 519.45,135.93 518.19,136.22 516.94,136.55 515.68,136.91 514.42,137.29 513.89,137.47 513.17,138 511.91,138.94 510.65,139.89 509.39,140.85 508.14,141.82 506.88,142.79 505.62,143.76 504.37,144.74 503.11,145.71 501.85,146.69 500.59,147.65 499.34,148.61 498.08,149.57 496.82,150.51 495.57,151.44 494.31,152.36 493.05,153.26 491.79,154.15 490.54,155.03 489.28,155.89 488.02,156.73 486.77,157.56 485.51,158.37 484.25,159.17 482.99,159.95 481.74,160.71 480.48,161.46 479.22,162.19 477.97,162.91 476.71,163.61 475.45,164.29 474.2,164.96 472.94,165.61 471.68,166.25 470.42,166.87 469.17,167.47 467.91,168.07 466.65,168.64 465.4,169.2 464.14,169.75 462.88,170.29 461.62,170.8 460.37,171.31 459.11,171.8 457.85,172.28 456.6,172.75 455.34,173.2 454.08,173.64 452.82,174.07 451.57,174.49 450.31,174.89 449.05,175.29 447.8,175.67 446.54,176.04 445.28,176.4 444.02,176.75 442.77,177.09 441.51,177.42 440.25,177.74 439,178.05 437.74,178.35 436.48,178.64 435.23,178.93 433.97,179.2 432.71,179.47 431.45,179.73 430.2,179.98 428.94,180.22 427.68,180.46 426.43,180.68 425.17,180.91 423.91,181.12 422.65,181.33 421.4,181.53 420.14,181.73 418.88,181.92 417.63,182.1 416.37,182.28 415.11,182.45 413.85,182.62 412.6,182.79 411.34,182.94 410.08,183.1 408.83,183.24 407.57,183.39 406.31,183.53 405.05,183.66 403.8,183.79 402.54,183.92 401.28,184.04 400.03,184.16" fill="#ccceda" stroke="#ccceda" stroke-width="0.5" clip-path="url(#bars1)"/>
<clipPath id="bandc1"><polygon points="400.03,157.67 401.28,157.42 402.54,157.18 403.8,156.94 405.05,156.71 406.31,156.47 407.57,156.23 408.83,156 410.08,155.77 411.34,155.54 412.6,155.31 413.85,155.08 415.11,154.86 416.37,154.63 417.63,154.41 418.88,154.19 420.14,153.97 421.4,153.75 422.65,153.53 423.91,153.31 425.17,153.1 426.43,152.88 427.68,152.66 428.94,152.45 430.2,152.24 431.45,152.02 432.71,151.81 433.97,151.6 435.23,151.38 436.48,151.17 437.74,150.96 439,150.74 440.25,150.53 441.51,150.32 442.77,150.1 444.02,149.89 445.28,149.67 446.54,149.46 447.8,149.24 449.05,149.02 450.31,148.81 451.57,148.59 452.82,148.37 454.08,148.15 455.34,147.93 456.6,147.71 457.85,147.48 459.11,147.26 460.37,147.03 461.62,146.81 462.88,146.58 464.14,146.36 465.4,146.13 466.65,145.9 467.91,145.67 469.17,145.44 470.42,145.21 471.68,144.97 472.94,144.74 474.2,144.51 475.45,144.27 476.71,144.03 477.97,143.79 479.22,143.56 480.48,143.32 481.74,143.07 482.99,142.83 484.25,142.59 485.51,142.34 486.77,142.1 488.02,141.85 489.28,141.6 490.54,141.35 491.79,141.1 493.05,140.85 494.31,140.6 495.57,140.35 496.82,140.1 498.08,139.86 499.34,139.62 500.59,139.38 501.85,139.15 503.11,138.93 504.37,138.71 505.62,138.51 506.88,138.32 508.14,138.13 509.39,137.96 510.65,137.8 511.91,137.66 513.17,137.54 513.89,137.47 514.42,137.21 515.68,136.6 516.94,136 518.19,135.41 519.45,134.83 520.71,134.25 521.96,133.67 523.22,133.1 524.48,132.53 525.74,131.97 526.99,131.41 528.25,130.85 529.51,130.3 530.76,129.74 532.02,129.19 533.28,128.63 534.54,128.07 535.79,127.51 537.05,126.94 538.31,126.38 539.56,125.8 540.82,125.23 542.08,124.65 543.34,124.07 544.59,123.48 545.85,122.89 547.11,122.3 548.36,121.7 549.62,121.1 550.88,120.49 552.14,119.88 553.39,119.27 554.65,118.65 555.91,118.02 557.16,117.39 558.42,116.75 559.68,116.11 560.93,115.47 562.19,114.81 563.45,114.15 564.71,113.49 565.96,112.82 567.22,112.14 568.48,111.45 569.73,110.76 570.99,110.06 572.25,109.36 573.51,108.64 574.76,107.92 576.02,107.19 577.28,106.45 578.53,105.7 579.79,104.95 581.05,104.18 582.31,103.4 583.56,102.62 584.82,101.83 586.08,101.02 587.33,100.21 588.59,99.39 589.85,98.56 591.1,97.72 592.36,96.88 593.62,96.02 594.88,95.16 596.13,94.29 597.39,93.42 598.65,92.53 599.9,91.64 601.16,90.75 602.42,89.84 603.68,88.93 604.93,88.02 606.19,87.09 607.45,86.17 608.7,85.24 609.96,84.3 611.22,83.36 612.48,82.42 613.73,81.47 614.99,80.52 616.25,79.57 617.5,78.61 618.76,77.66 620.02,76.7 621.28,75.74 622.53,74.78 623.79,73.82 625.05,72.87 626.3,71.91 627.56,70.95 628.82,70 630.07,69.05 631.33,68.1 632.59,67.16 633.85,66.22 635.1,65.29 636.36,64.36 637.62,63.44 638.87,62.52 640.13,61.62 641.39,60.72 642.65,59.83 643.9,58.94 645.16,58.07 646.42,57.21 647.67,56.37 648.93,55.53 650.19,54.71 650.19,155.09 648.93,154.97 647.67,154.84 646.42,154.71 645.16,154.57 643.9,154.43 642.65,154.28 641.39,154.13 640.13,153.97 638.87,153.81 637.62,153.65 636.36,153.47 635.1,153.3 633.85,153.12 632.59,152.93 631.33,152.74 630.07,152.55 628.82,152.35 627.56,152.15 626.3,151.95 625.05,151.74 623.79,151.52 622.53,151.3 621.28,151.08 620.02,150.85 618.76,150.62 617.5,150.39 616.25,150.15 614.99,149.91 613.73,149.66 612.48,149.42 611.22,149.16 609.96,148.91 608.7,148.65 607.45,148.39 606.19,148.12 604.93,147.85 603.68,147.58 602.42,147.31 601.16,147.03 599.9,146.75 598.65,146.47 597.39,146.18 596.13,145.9 594.88,145.61 593.62,145.32 592.36,145.02 591.1,144.73 589.85,144.43 588.59,144.13 587.33,143.83 586.08,143.53 584.82,143.23 583.56,142.92 582.31,142.62 581.05,142.31 579.79,142 578.53,141.7 577.28,141.39 576.02,141.08 574.76,140.78 573.51,140.48 572.25,140.17 570.99,139.87 569.73,139.58 568.48,139.28 567.22,138.99 565.96,138.71 564.71,138.42 563.45,138.15 562.19,137.88 560.93,137.61 559.68,137.35 558.42,137.1 557.16,136.86 555.91,136.63 554.65,136.4 553.39,136.18 552.14,135.98 550.88,135.78 549.62,135.59 548.36,135.42 547.11,135.26 545.85,135.11 544.59,134.97 543.34,134.85 542.08,134.74 540.82,134.64 539.56,134.56 538.31,134.5 537.05,134.45 535.79,134.42 534.54,134.41 533.28,134.41 532.02,134.43 530.76,134.47 529.51,134.54 528.25,134.62 526.99,134.73 525.74,134.86 524.48,135.02 523.22,135.21 521.96,135.42 520.71,135.66 519.45,135.93 518.19,136.22 516.94,136.55 515.68,136.91 514.42,137.29 513.89,137.47 513.17,138 511.91,138.94 510.65,139.89 509.39,140.85 508.14,141.82 506.88,142.79 505.62,143.76 504.37,144.74 503.11,145.71 501.85,146.69 500.59,147.65 499.34,148.61 498.08,149.57 496.82,150.51 495.57,151.44 494.31,152.36 493.05,153.26 491.79,154.15 490.54,155.03 489.28,155.89 488.02,156.73 486.77,157.56 485.51,158.37 484.25,159.17 482.99,159.95 481.74,160.71 480.48,161.46 479.22,162.19 477.97,162.91 476.71,163.61 475.45,164.29 474.2,164.96 472.94,165.61 471.68,166.25 470.42,166.87 469.17,167.47 467.91,168.07 466.65,168.64 465.4,169.2 464.14,169.75 462.88,170.29 461.62,170.8 460.37,171.31 459.11,171.8 457.85,172.28 456.6,172.75 455.34,173.2 454.08,173.64 452.82,174.07 451.57,174.49 450.31,174.89 449.05,175.29 447.8,175.67 446.54,176.04 445.28,176.4 444.02,176.75 442.77,177.09 441.51,177.42 440.25,177.74 439,178.05 437.74,178.35 436.48,178.64 435.23,178.93 433.97,179.2 432.71,179.47 431.45,179.73 430.2,179.98 428.94,180.22 427.68,180.46 426.43,180.68 425.17,180.91 423.91,181.12 422.65,181.33 421.4,181.53 420.14,181.73 418.88,181.92 417.63,182.1 416.37,182.28 415.11,182.45 413.85,182.62 412.6,182.79 411.34,182.94 410.08,183.1 408.83,183.24 407.57,183.39 406.31,183.53 405.05,183.66 403.8,183.79 402.54,183.92 401.28,184.04 400.03,184.16"/></clipPath>
<line x1="422.47" y1="28" x2="422.47" y2="195.8" stroke="#000" stroke-opacity="0.035" stroke-width="0.6"/>
<line x1="477.21" y1="28" x2="477.21" y2="195.8" stroke="#000" stroke-opacity="0.035" stroke-width="0.6"/>
<line x1="531.95" y1="28" x2="531.95" y2="195.8" stroke="#000" stroke-opacity="0.035" stroke-width="0.6"/>
<line x1="586.69" y1="28" x2="586.69" y2="195.8" stroke="#000" stroke-opacity="0.035" stroke-width="0.6"/>
<line x1="641.43" y1="28" x2="641.43" y2="195.8" stroke="#000" stroke-opacity="0.035" stroke-width="0.6"/>
<line x1="376.3" y1="162.99" x2="683.2" y2="162.99" stroke="#000" stroke-opacity="0.035" stroke-width="0.6"/>
<line x1="376.3" y1="111.95" x2="683.2" y2="111.95" stroke="#000" stroke-opacity="0.035" stroke-width="0.6"/>
<line x1="376.3" y1="60.92" x2="683.2" y2="60.92" stroke="#000" stroke-opacity="0.035" stroke-width="0.6"/>
<line x1="395.1" y1="28" x2="395.1" y2="195.8" stroke="#000" stroke-opacity="0.06" stroke-width="0.8"/>
<line x1="449.84" y1="28" x2="449.84" y2="195.8" stroke="#000" stroke-opacity="0.06" stroke-width="0.8"/>
<line x1="504.58" y1="28" x2="504.58" y2="195.8" stroke="#000" stroke-opacity="0.06" stroke-width="0.8"/>
<line x1="559.32" y1="28" x2="559.32" y2="195.8" stroke="#000" stroke-opacity="0.06" stroke-width="0.8"/>
<line x1="614.06" y1="28" x2="614.06" y2="195.8" stroke="#000" stroke-opacity="0.06" stroke-width="0.8"/>
<line x1="668.8" y1="28" x2="668.8" y2="195.8" stroke="#000" stroke-opacity="0.06" stroke-width="0.8"/>
<line x1="376.3" y1="188.5" x2="683.2" y2="188.5" stroke="#000" stroke-opacity="0.06" stroke-width="0.8"/>
<line x1="376.3" y1="137.47" x2="683.2" y2="137.47" stroke="#000" stroke-opacity="0.06" stroke-width="0.8"/>
<line x1="376.3" y1="86.44" x2="683.2" y2="86.44" stroke="#000" stroke-opacity="0.06" stroke-width="0.8"/>
<line x1="376.3" y1="35.41" x2="683.2" y2="35.41" stroke="#000" stroke-opacity="0.06" stroke-width="0.8"/>
<polyline points="400.03,176.93 401.28,176.73 402.54,176.52 403.8,176.31 405.05,176.1 406.31,175.88 407.57,175.66 408.83,175.43 410.08,175.2 411.34,174.97 412.6,174.73 413.85,174.49 415.11,174.24 416.37,173.99 417.63,173.73 418.88,173.47 420.14,173.21 421.4,172.94 422.65,172.67 423.91,172.39 425.17,172.1 426.43,171.82 427.68,171.52 428.94,171.22 430.2,170.92 431.45,170.61 432.71,170.29 433.97,169.97 435.23,169.65 436.48,169.32 437.74,168.98 439,168.64 440.25,168.29 441.51,167.93 442.77,167.57 444.02,167.2 445.28,166.83 446.54,166.44 447.8,166.06 449.05,165.66 450.31,165.26 451.57,164.85 452.82,164.44 454.08,164.02 455.34,163.59 456.6,163.15 457.85,162.71 459.11,162.26 460.37,161.8 461.62,161.34 462.88,160.87 464.14,160.39 465.4,159.91 466.65,159.41 467.91,158.92 469.17,158.41 470.42,157.9 471.68,157.38 472.94,156.85 474.2,156.32 475.45,155.78 476.71,155.23 477.97,154.68 479.22,154.11 480.48,153.55 481.74,152.97 482.99,152.39 484.25,151.8 485.51,151.21 486.77,150.61 488.02,150.01 489.28,149.39 490.54,148.78 491.79,148.15 493.05,147.52 494.31,146.89 495.57,146.26 496.82,145.62 498.08,144.98 499.34,144.34 500.59,143.71 501.85,143.07 503.11,142.45 504.37,141.82 505.62,141.21 506.88,140.6 508.14,140.01 509.39,139.43 510.65,138.86 511.91,138.3 513.17,137.77 513.89,137.47 514.42,137.25 515.68,136.76 516.94,136.28 518.19,135.82 519.45,135.38 520.71,134.96 521.96,134.55 523.22,134.16 524.48,133.79 525.74,133.44 526.99,133.1 528.25,132.77 529.51,132.46 530.76,132.16 532.02,131.87 533.28,131.59 534.54,131.33 535.79,131.07 537.05,130.82 538.31,130.58 539.56,130.35 540.82,130.13 542.08,129.91 543.34,129.7 544.59,129.51 545.85,129.31 547.11,129.13 548.36,128.95 549.62,128.78 550.88,128.62 552.14,128.47 553.39,128.32 554.65,128.17 555.91,128.03 557.16,127.9 558.42,127.78 559.68,127.65 560.93,127.54 562.19,127.42 563.45,127.32 564.71,127.21 565.96,127.11 567.22,127.01 568.48,126.92 569.73,126.83 570.99,126.74 572.25,126.65 573.51,126.57 574.76,126.49 576.02,126.41 577.28,126.33 578.53,126.25 579.79,126.17 581.05,126.09 582.31,126.01 583.56,125.94 584.82,125.86 586.08,125.78 587.33,125.7 588.59,125.62 589.85,125.54 591.1,125.46 592.36,125.39 593.62,125.31 594.88,125.23 596.13,125.15 597.39,125.07 598.65,124.99 599.9,124.91 601.16,124.83 602.42,124.75 603.68,124.67 604.93,124.59 606.19,124.51 607.45,124.43 608.7,124.35 609.96,124.27 611.22,124.19 612.48,124.11 613.73,124.03 614.99,123.95 616.25,123.87 617.5,123.79 618.76,123.71 620.02,123.62 621.28,123.54 622.53,123.46 623.79,123.38 625.05,123.3 626.3,123.22 627.56,123.14 628.82,123.05 630.07,122.97 631.33,122.89 632.59,122.81 633.85,122.72 635.1,122.64 636.36,122.56 637.62,122.48 638.87,122.39 640.13,122.31 641.39,122.23 642.65,122.15 643.9,122.06 645.16,121.98 646.42,121.9 647.67,121.81 648.93,121.73 650.19,121.65" fill="none" stroke="#565684" stroke-width="1.8" stroke-linejoin="round"/>
<line x1="376.3" y1="137.47" x2="683.2" y2="137.47" stroke="#e2513f" stroke-width="1.2" stroke-dasharray="4.9 4.3"/>
<line x1="513.89" y1="195.8" x2="513.89" y2="28" stroke="#e2513f" stroke-width="1.2" stroke-dasharray="4.9 4.3"/>
</g>
<rect x="376.3" y="28" width="306.9" height="167.8" fill="none" stroke="#2b2b2b" stroke-width="1.2"/>
<text x="347" y="10.5" font-family='"Liberation Serif", serif' font-weight="bold" font-size="13" fill="#1a1a1a" stroke="#1a1a1a" stroke-width="0.15">B</text>
<text x="376.8" y="21" font-family='"Liberation Serif", serif' font-weight="bold" font-size="12.9" fill="#1a1a1a" stroke="#1a1a1a" stroke-width="0.15">PCSkinBloodClock</text>
<text x="384.7" y="39.4" font-family='"Liberation Serif", serif' font-size="10" fill="#1a1a1a" stroke="#1a1a1a" stroke-width="0.22"><tspan font-style="italic">P</tspan><tspan dx="2"> for</tspan> overall = 0.006</text>
<text x="387" y="49.9" font-family='"Liberation Serif", serif' font-size="10" fill="#1a1a1a" stroke="#1a1a1a" stroke-width="0.22"><tspan font-style="italic">P</tspan><tspan dx="2"> for</tspan> nonlinearity = 0.059</text>
<text x="520.8" y="144" font-family='"Liberation Serif", serif' font-size="10.2" fill="#1a1a1a" stroke="#1a1a1a" stroke-width="0.2">Ref. slope <tspan fill="#777" stroke="#777">=</tspan> 1.17</text>
<text x="395.1" y="207.5" text-anchor="middle" font-family='"Liberation Serif", serif' font-size="9.6" fill="#262626" stroke="#262626" stroke-width="0.2">-1</text>
<text x="449.84" y="207.5" text-anchor="middle" font-family='"Liberation Serif", serif' font-size="9.6" fill="#262626" stroke="#262626" stroke-width="0.2">0</text>
<text x="504.58" y="207.5" text-anchor="middle" font-family='"Liberation Serif", serif' font-size="9.6" fill="#262626" stroke="#262626" stroke-width="0.2">1</text>
<text x="559.32" y="207.5" text-anchor="middle" font-family='"Liberation Serif", serif' font-size="9.6" fill="#262626" stroke="#262626" stroke-width="0.2">2</text>
<text x="614.06" y="207.5" text-anchor="middle" font-family='"Liberation Serif", serif' font-size="9.6" fill="#262626" stroke="#262626" stroke-width="0.2">3</text>
<text x="668.8" y="207.5" text-anchor="middle" font-family='"Liberation Serif", serif' font-size="9.6" fill="#262626" stroke="#262626" stroke-width="0.2">4</text>
<text x="372.2" y="192.4" text-anchor="end" font-family='"Liberation Serif", serif' font-size="9.6" fill="#262626" stroke="#262626" stroke-width="0.2">0</text>
<text x="372.2" y="141.37" text-anchor="end" font-family='"Liberation Serif", serif' font-size="9.6" fill="#262626" stroke="#262626" stroke-width="0.2">1</text>
<text x="372.2" y="90.34" text-anchor="end" font-family='"Liberation Serif", serif' font-size="9.6" fill="#262626" stroke="#262626" stroke-width="0.2">2</text>
<text x="372.2" y="39.31" text-anchor="end" font-family='"Liberation Serif", serif' font-size="9.6" fill="#262626" stroke="#262626" stroke-width="0.2">3</text>
<text x="529.75" y="219.4" text-anchor="middle" font-family='"Liberation Serif", serif' font-weight="bold" font-size="11.5" fill="#1a1a1a" stroke="#1a1a1a" stroke-width="0.12">PCSkinBloodClock slope (scaled)</text>
<text transform="translate(362.8,111.9) rotate(-90)" text-anchor="middle" font-family='"Liberation Serif", serif' font-weight="bold" font-size="11.5" fill="#1a1a1a" stroke="#1a1a1a" stroke-width="0.12">Hazard Ratio per SD (95% CI)</text>
<clipPath id="clip2"><rect x="32.4" y="258" width="306.2" height="167.3"/></clipPath>
<g clip-path="url(#clip2)">
<path d="M42.74 418.3V415.75H54.1V418.3ZM54.1 418.3V415.75H65.46V418.3ZM65.46 418.3V410.14H76.82V418.3ZM76.82 418.3V408.6H88.18V418.3ZM88.18 418.3V405.54H99.54V418.3ZM99.54 418.3V399.93H110.9V418.3ZM110.9 418.3V395.34H122.26V418.3ZM122.26 418.3V375.95H133.62V418.3ZM133.62 418.3V372.37H144.98V418.3ZM144.98 418.3V350.94H156.34V418.3ZM156.34 418.3V329H167.7V418.3ZM167.7 418.3V313.18H179.06V418.3ZM179.06 418.3V289.7H190.42V418.3ZM190.42 418.3V289.7H201.78V418.3ZM201.78 418.3V296.85H213.14V418.3ZM213.14 418.3V320.32H224.5V418.3ZM224.5 418.3V345.33H235.86V418.3ZM235.86 418.3V382.07H247.22V418.3ZM247.22 418.3V402.99H258.58V418.3ZM258.58 418.3V399.93H269.94V418.3ZM269.94 418.3V405.54H281.3V418.3ZM281.3 418.3V412.69H292.66V418.3ZM292.66 418.3V414.22H304.02V418.3ZM304.02 418.3V415.75H315.38V418.3ZM315.38 418.3V415.75H326.74V418.3Z" fill="#c3dae8"/>
<clipPath id="bars2"><path d="M42.74 418.3V415.75H54.1V418.3ZM54.1 418.3V415.75H65.46V418.3ZM65.46 418.3V410.14H76.82V418.3ZM76.82 418.3V408.6H88.18V418.3ZM88.18 418.3V405.54H99.54V418.3ZM99.54 418.3V399.93H110.9V418.3ZM110.9 418.3V395.34H122.26V418.3ZM122.26 418.3V375.95H133.62V418.3ZM133.62 418.3V372.37H144.98V418.3ZM144.98 418.3V350.94H156.34V418.3ZM156.34 418.3V329H167.7V418.3ZM167.7 418.3V313.18H179.06V418.3ZM179.06 418.3V289.7H190.42V418.3ZM190.42 418.3V289.7H201.78V418.3ZM201.78 418.3V296.85H213.14V418.3ZM213.14 418.3V320.32H224.5V418.3ZM224.5 418.3V345.33H235.86V418.3ZM235.86 418.3V382.07H247.22V418.3ZM247.22 418.3V402.99H258.58V418.3ZM258.58 418.3V399.93H269.94V418.3ZM269.94 418.3V405.54H281.3V418.3ZM281.3 418.3V412.69H292.66V418.3ZM292.66 418.3V414.22H304.02V418.3ZM304.02 418.3V415.75H315.38V418.3ZM315.38 418.3V415.75H326.74V418.3Z"/></clipPath>
<polygon points="56.09,379.93 57.36,379.64 58.64,379.37 59.91,379.11 61.19,378.85 62.46,378.61 63.73,378.37 65.01,378.15 66.28,377.93 67.56,377.72 68.83,377.52 70.11,377.33 71.38,377.15 72.66,376.97 73.93,376.81 75.2,376.65 76.48,376.5 77.75,376.35 79.03,376.22 80.3,376.09 81.58,375.97 82.85,375.85 84.13,375.74 85.4,375.64 86.67,375.54 87.95,375.45 89.22,375.37 90.5,375.29 91.77,375.21 93.05,375.14 94.32,375.07 95.6,375.01 96.87,374.95 98.14,374.9 99.42,374.84 100.69,374.79 101.97,374.75 103.24,374.7 104.52,374.66 105.79,374.62 107.07,374.58 108.34,374.54 109.61,374.5 110.89,374.47 112.16,374.43 113.44,374.39 114.71,374.35 115.99,374.32 117.26,374.28 118.54,374.24 119.81,374.2 121.08,374.16 122.36,374.12 123.63,374.08 124.91,374.04 126.18,374 127.46,373.95 128.73,373.91 130.01,373.86 131.28,373.81 132.55,373.76 133.83,373.7 135.1,373.65 136.38,373.59 137.65,373.53 138.93,373.47 140.2,373.4 141.47,373.33 142.75,373.26 144.02,373.18 145.3,373.11 146.57,373.02 147.85,372.94 149.12,372.85 150.4,372.75 151.67,372.66 152.94,372.56 154.22,372.45 155.49,372.34 156.77,372.22 158.04,372.1 159.32,371.98 160.59,371.85 161.87,371.71 163.14,371.57 164.41,371.42 165.69,371.26 166.96,371.1 168.24,370.94 169.51,370.76 170.79,370.58 172.06,370.4 173.34,370.2 174.61,370 175.88,369.79 177.16,369.57 178.43,369.34 179.71,369.11 180.98,368.86 182.26,368.61 183.53,368.34 184.81,368.06 186.08,367.77 187.35,367.47 188.15,367.27 188.63,367.01 189.9,366.31 191.18,365.63 192.45,364.94 193.73,364.26 195,363.58 196.28,362.9 197.55,362.23 198.82,361.56 200.1,360.9 201.37,360.24 202.65,359.59 203.92,358.94 205.2,358.3 206.47,357.66 207.75,357.03 209.02,356.4 210.29,355.78 211.57,355.16 212.84,354.55 214.12,353.94 215.39,353.33 216.67,352.73 217.94,352.14 219.22,351.54 220.49,350.95 221.76,350.36 223.04,349.78 224.31,349.19 225.59,348.61 226.86,348.03 228.14,347.45 229.41,346.87 230.69,346.29 231.96,345.71 233.23,345.14 234.51,344.56 235.78,343.97 237.06,343.39 238.33,342.81 239.61,342.22 240.88,341.63 242.16,341.03 243.43,340.43 244.7,339.83 245.98,339.22 247.25,338.61 248.53,337.98 249.8,337.35 251.08,336.72 252.35,336.07 253.62,335.42 254.9,334.75 256.17,334.07 257.45,333.39 258.72,332.69 260,331.99 261.27,331.27 262.55,330.54 263.82,329.79 265.09,329.04 266.37,328.27 267.64,327.49 268.92,326.7 270.19,325.89 271.47,325.06 272.74,324.23 274.02,323.37 275.29,322.5 276.56,321.62 277.84,320.72 279.11,319.8 280.39,318.86 281.66,317.9 282.94,316.93 284.21,315.93 285.49,314.92 286.76,313.88 288.03,312.83 289.31,311.75 290.58,310.65 291.86,309.52 293.13,308.37 294.41,307.2 295.68,306 296.96,304.78 298.23,303.52 299.5,302.24 300.78,300.94 302.05,299.6 303.33,298.23 304.6,296.83 305.88,295.4 307.15,293.93 308.43,292.43 309.7,290.89 309.7,384.06 308.43,383.75 307.15,383.45 305.88,383.15 304.6,382.85 303.33,382.55 302.05,382.26 300.78,381.96 299.5,381.67 298.23,381.38 296.96,381.1 295.68,380.81 294.41,380.53 293.13,380.25 291.86,379.97 290.58,379.7 289.31,379.42 288.03,379.15 286.76,378.88 285.49,378.62 284.21,378.35 282.94,378.09 281.66,377.83 280.39,377.58 279.11,377.32 277.84,377.07 276.56,376.82 275.29,376.57 274.02,376.32 272.74,376.08 271.47,375.84 270.19,375.6 268.92,375.36 267.64,375.12 266.37,374.89 265.09,374.66 263.82,374.43 262.55,374.2 261.27,373.97 260,373.75 258.72,373.53 257.45,373.31 256.17,373.09 254.9,372.87 253.62,372.65 252.35,372.44 251.08,372.22 249.8,372.01 248.53,371.8 247.25,371.59 245.98,371.39 244.7,371.18 243.43,370.98 242.16,370.78 240.88,370.59 239.61,370.39 238.33,370.2 237.06,370.02 235.78,369.83 234.51,369.66 233.23,369.48 231.96,369.31 230.69,369.14 229.41,368.98 228.14,368.82 226.86,368.67 225.59,368.52 224.31,368.38 223.04,368.24 221.76,368.11 220.49,367.99 219.22,367.87 217.94,367.76 216.67,367.65 215.39,367.55 214.12,367.46 212.84,367.37 211.57,367.29 210.29,367.22 209.02,367.16 207.75,367.1 206.47,367.05 205.2,367.01 203.92,366.98 202.65,366.96 201.37,366.94 200.1,366.94 198.82,366.94 197.55,366.95 196.28,366.97 195,366.99 193.73,367.03 192.45,367.07 191.18,367.12 189.9,367.18 188.63,367.24 188.15,367.27 187.35,367.55 186.08,368.03 184.81,368.54 183.53,369.07 182.26,369.62 180.98,370.19 179.71,370.79 178.43,371.4 177.16,372.03 175.88,372.68 174.61,373.34 173.34,374.02 172.06,374.71 170.79,375.41 169.51,376.12 168.24,376.85 166.96,377.57 165.69,378.31 164.41,379.05 163.14,379.79 161.87,380.54 160.59,381.29 159.32,382.04 158.04,382.79 156.77,383.54 155.49,384.28 154.22,385.02 152.94,385.76 151.67,386.49 150.4,387.22 149.12,387.94 147.85,388.65 146.57,389.36 145.3,390.05 144.02,390.74 142.75,391.42 141.47,392.09 140.2,392.75 138.93,393.4 137.65,394.04 136.38,394.67 135.1,395.28 133.83,395.89 132.55,396.48 131.28,397.06 130.01,397.63 128.73,398.19 127.46,398.73 126.18,399.27 124.91,399.79 123.63,400.3 122.36,400.79 121.08,401.28 119.81,401.75 118.54,402.21 117.26,402.66 115.99,403.1 114.71,403.52 113.44,403.93 112.16,404.34 110.89,404.73 109.61,405.11 108.34,405.48 107.07,405.84 105.79,406.19 104.52,406.52 103.24,406.85 101.97,407.17 100.69,407.48 99.42,407.78 98.14,408.07 96.87,408.35 95.6,408.63 94.32,408.89 93.05,409.15 91.77,409.4 90.5,409.64 89.22,409.88 87.95,410.1 86.67,410.32 85.4,410.53 84.13,410.74 82.85,410.94 81.58,411.13 80.3,411.32 79.03,411.5 77.75,411.67 76.48,411.84 75.2,412.01 73.93,412.17 72.66,412.32 71.38,412.47 70.11,412.61 68.83,412.75 67.56,412.88 66.28,413.01 65.01,413.14 63.73,413.26 62.46,413.37 61.19,413.48 59.91,413.59 58.64,413.7 57.36,413.8 56.09,413.9" fill="#f5ebe6"/>
<polygon points="56.09,379.93 57.36,379.64 58.64,379.37 59.91,379.11 61.19,378.85 62.46,378.61 63.73,378.37 65.01,378.15 66.28,377.93 67.56,377.72 68.83,377.52 70.11,377.33 71.38,377.15 72.66,376.97 73.93,376.81 75.2,376.65 76.48,376.5 77.75,376.35 79.03,376.22 80.3,376.09 81.58,375.97 82.85,375.85 84.13,375.74 85.4,375.64 86.67,375.54 87.95,375.45 89.22,375.37 90.5,375.29 91.77,375.21 93.05,375.14 94.32,375.07 95.6,375.01 96.87,374.95 98.14,374.9 99.42,374.84 100.69,374.79 101.97,374.75 103.24,374.7 104.52,374.66 105.79,374.62 107.07,374.58 108.34,374.54 109.61,374.5 110.89,374.47 112.16,374.43 113.44,374.39 114.71,374.35 115.99,374.32 117.26,374.28 118.54,374.24 119.81,374.2 121.08,374.16 122.36,374.12 123.63,374.08 124.91,374.04 126.18,374 127.46,373.95 128.73,373.91 130.01,373.86 131.28,373.81 132.55,373.76 133.83,373.7 135.1,373.65 136.38,373.59 137.65,373.53 138.93,373.47 140.2,373.4 141.47,373.33 142.75,373.26 144.02,373.18 145.3,373.11 146.57,373.02 147.85,372.94 149.12,372.85 150.4,372.75 151.67,372.66 152.94,372.56 154.22,372.45 155.49,372.34 156.77,372.22 158.04,372.1 159.32,371.98 160.59,371.85 161.87,371.71 163.14,371.57 164.41,371.42 165.69,371.26 166.96,371.1 168.24,370.94 169.51,370.76 170.79,370.58 172.06,370.4 173.34,370.2 174.61,370 175.88,369.79 177.16,369.57 178.43,369.34 179.71,369.11 180.98,368.86 182.26,368.61 183.53,368.34 184.81,368.06 186.08,367.77 187.35,367.47 188.15,367.27 188.63,367.01 189.9,366.31 191.18,365.63 192.45,364.94 193.73,364.26 195,363.58 196.28,362.9 197.55,362.23 198.82,361.56 200.1,360.9 201.37,360.24 202.65,359.59 203.92,358.94 205.2,358.3 206.47,357.66 207.75,357.03 209.02,356.4 210.29,355.78 211.57,355.16 212.84,354.55 214.12,353.94 215.39,353.33 216.67,352.73 217.94,352.14 219.22,351.54 220.49,350.95 221.76,350.36 223.04,349.78 224.31,349.19 225.59,348.61 226.86,348.03 228.14,347.45 229.41,346.87 230.69,346.29 231.96,345.71 233.23,345.14 234.51,344.56 235.78,343.97 237.06,343.39 238.33,342.81 239.61,342.22 240.88,341.63 242.16,341.03 243.43,340.43 244.7,339.83 245.98,339.22 247.25,338.61 248.53,337.98 249.8,337.35 251.08,336.72 252.35,336.07 253.62,335.42 254.9,334.75 256.17,334.07 257.45,333.39 258.72,332.69 260,331.99 261.27,331.27 262.55,330.54 263.82,329.79 265.09,329.04 266.37,328.27 267.64,327.49 268.92,326.7 270.19,325.89 271.47,325.06 272.74,324.23 274.02,323.37 275.29,322.5 276.56,321.62 277.84,320.72 279.11,319.8 280.39,318.86 281.66,317.9 282.94,316.93 284.21,315.93 285.49,314.92 286.76,313.88 288.03,312.83 289.31,311.75 290.58,310.65 291.86,309.52 293.13,308.37 294.41,307.2 295.68,306 296.96,304.78 298.23,303.52 299.5,302.24 300.78,300.94 302.05,299.6 303.33,298.23 304.6,296.83 305.88,295.4 307.15,293.93 308.43,292.43 309.7,290.89 309.7,384.06 308.43,383.75 307.15,383.45 305.88,383.15 304.6,382.85 303.33,382.55 302.05,382.26 300.78,381.96 299.5,381.67 298.23,381.38 296.96,381.1 295.68,380.81 294.41,380.53 293.13,380.25 291.86,379.97 290.58,379.7 289.31,379.42 288.03,379.15 286.76,378.88 285.49,378.62 284.21,378.35 282.94,378.09 281.66,377.83 280.39,377.58 279.11,377.32 277.84,377.07 276.56,376.82 275.29,376.57 274.02,376.32 272.74,376.08 271.47,375.84 270.19,375.6 268.92,375.36 267.64,375.12 266.37,374.89 265.09,374.66 263.82,374.43 262.55,374.2 261.27,373.97 260,373.75 258.72,373.53 257.45,373.31 256.17,373.09 254.9,372.87 253.62,372.65 252.35,372.44 251.08,372.22 249.8,372.01 248.53,371.8 247.25,371.59 245.98,371.39 244.7,371.18 243.43,370.98 242.16,370.78 240.88,370.59 239.61,370.39 238.33,370.2 237.06,370.02 235.78,369.83 234.51,369.66 233.23,369.48 231.96,369.31 230.69,369.14 229.41,368.98 228.14,368.82 226.86,368.67 225.59,368.52 224.31,368.38 223.04,368.24 221.76,368.11 220.49,367.99 219.22,367.87 217.94,367.76 216.67,367.65 215.39,367.55 214.12,367.46 212.84,367.37 211.57,367.29 210.29,367.22 209.02,367.16 207.75,367.1 206.47,367.05 205.2,367.01 203.92,366.98 202.65,366.96 201.37,366.94 200.1,366.94 198.82,366.94 197.55,366.95 196.28,366.97 195,366.99 193.73,367.03 192.45,367.07 191.18,367.12 189.9,367.18 188.63,367.24 188.15,367.27 187.35,367.55 186.08,368.03 184.81,368.54 183.53,369.07 182.26,369.62 180.98,370.19 179.71,370.79 178.43,371.4 177.16,372.03 175.88,372.68 174.61,373.34 173.34,374.02 172.06,374.71 170.79,375.41 169.51,376.12 168.24,376.85 166.96,377.57 165.69,378.31 164.41,379.05 163.14,379.79 161.87,380.54 160.59,381.29 159.32,382.04 158.04,382.79 156.77,383.54 155.49,384.28 154.22,385.02 152.94,385.76 151.67,386.49 150.4,387.22 149.12,387.94 147.85,388.65 146.57,389.36 145.3,390.05 144.02,390.74 142.75,391.42 141.47,392.09 140.2,392.75 138.93,393.4 137.65,394.04 136.38,394.67 135.1,395.28 133.83,395.89 132.55,396.48 131.28,397.06 130.01,397.63 128.73,398.19 127.46,398.73 126.18,399.27 124.91,399.79 123.63,400.3 122.36,400.79 121.08,401.28 119.81,401.75 118.54,402.21 117.26,402.66 115.99,403.1 114.71,403.52 113.44,403.93 112.16,404.34 110.89,404.73 109.61,405.11 108.34,405.48 107.07,405.84 105.79,406.19 104.52,406.52 103.24,406.85 101.97,407.17 100.69,407.48 99.42,407.78 98.14,408.07 96.87,408.35 95.6,408.63 94.32,408.89 93.05,409.15 91.77,409.4 90.5,409.64 89.22,409.88 87.95,410.1 86.67,410.32 85.4,410.53 84.13,410.74 82.85,410.94 81.58,411.13 80.3,411.32 79.03,411.5 77.75,411.67 76.48,411.84 75.2,412.01 73.93,412.17 72.66,412.32 71.38,412.47 70.11,412.61 68.83,412.75 67.56,412.88 66.28,413.01 65.01,413.14 63.73,413.26 62.46,413.37 61.19,413.48 59.91,413.59 58.64,413.7 57.36,413.8 56.09,413.9" fill="#ccceda" stroke="#ccceda" stroke-width="0.5" clip-path="url(#bars2)"/>
<clipPath id="bandc2"><polygon points="56.09,379.93 57.36,379.64 58.64,379.37 59.91,379.11 61.19,378.85 62.46,378.61 63.73,378.37 65.01,378.15 66.28,377.93 67.56,377.72 68.83,377.52 70.11,377.33 71.38,377.15 72.66,376.97 73.93,376.81 75.2,376.65 76.48,376.5 77.75,376.35 79.03,376.22 80.3,376.09 81.58,375.97 82.85,375.85 84.13,375.74 85.4,375.64 86.67,375.54 87.95,375.45 89.22,375.37 90.5,375.29 91.77,375.21 93.05,375.14 94.32,375.07 95.6,375.01 96.87,374.95 98.14,374.9 99.42,374.84 100.69,374.79 101.97,374.75 103.24,374.7 104.52,374.66 105.79,374.62 107.07,374.58 108.34,374.54 109.61,374.5 110.89,374.47 112.16,374.43 113.44,374.39 114.71,374.35 115.99,374.32 117.26,374.28 118.54,374.24 119.81,374.2 121.08,374.16 122.36,374.12 123.63,374.08 124.91,374.04 126.18,374 127.46,373.95 128.73,373.91 130.01,373.86 131.28,373.81 132.55,373.76 133.83,373.7 135.1,373.65 136.38,373.59 137.65,373.53 138.93,373.47 140.2,373.4 141.47,373.33 142.75,373.26 144.02,373.18 145.3,373.11 146.57,373.02 147.85,372.94 149.12,372.85 150.4,372.75 151.67,372.66 152.94,372.56 154.22,372.45 155.49,372.34 156.77,372.22 158.04,372.1 159.32,371.98 160.59,371.85 161.87,371.71 163.14,371.57 164.41,371.42 165.69,371.26 166.96,371.1 168.24,370.94 169.51,370.76 170.79,370.58 172.06,370.4 173.34,370.2 174.61,370 175.88,369.79 177.16,369.57 178.43,369.34 179.71,369.11 180.98,368.86 182.26,368.61 183.53,368.34 184.81,368.06 186.08,367.77 187.35,367.47 188.15,367.27 188.63,367.01 189.9,366.31 191.18,365.63 192.45,364.94 193.73,364.26 195,363.58 196.28,362.9 197.55,362.23 198.82,361.56 200.1,360.9 201.37,360.24 202.65,359.59 203.92,358.94 205.2,358.3 206.47,357.66 207.75,357.03 209.02,356.4 210.29,355.78 211.57,355.16 212.84,354.55 214.12,353.94 215.39,353.33 216.67,352.73 217.94,352.14 219.22,351.54 220.49,350.95 221.76,350.36 223.04,349.78 224.31,349.19 225.59,348.61 226.86,348.03 228.14,347.45 229.41,346.87 230.69,346.29 231.96,345.71 233.23,345.14 234.51,344.56 235.78,343.97 237.06,343.39 238.33,342.81 239.61,342.22 240.88,341.63 242.16,341.03 243.43,340.43 244.7,339.83 245.98,339.22 247.25,338.61 248.53,337.98 249.8,337.35 251.08,336.72 252.35,336.07 253.62,335.42 254.9,334.75 256.17,334.07 257.45,333.39 258.72,332.69 260,331.99 261.27,331.27 262.55,330.54 263.82,329.79 265.09,329.04 266.37,328.27 267.64,327.49 268.92,326.7 270.19,325.89 271.47,325.06 272.74,324.23 274.02,323.37 275.29,322.5 276.56,321.62 277.84,320.72 279.11,319.8 280.39,318.86 281.66,317.9 282.94,316.93 284.21,315.93 285.49,314.92 286.76,313.88 288.03,312.83 289.31,311.75 290.58,310.65 291.86,309.52 293.13,308.37 294.41,307.2 295.68,306 296.96,304.78 298.23,303.52 299.5,302.24 300.78,300.94 302.05,299.6 303.33,298.23 304.6,296.83 305.88,295.4 307.15,293.93 308.43,292.43 309.7,290.89 309.7,384.06 308.43,383.75 307.15,383.45 305.88,383.15 304.6,382.85 303.33,382.55 302.05,382.26 300.78,381.96 299.5,381.67 298.23,381.38 296.96,381.1 295.68,380.81 294.41,380.53 293.13,380.25 291.86,379.97 290.58,379.7 289.31,379.42 288.03,379.15 286.76,378.88 285.49,378.62 284.21,378.35 282.94,378.09 281.66,377.83 280.39,377.58 279.11,377.32 277.84,377.07 276.56,376.82 275.29,376.57 274.02,376.32 272.74,376.08 271.47,375.84 270.19,375.6 268.92,375.36 267.64,375.12 266.37,374.89 265.09,374.66 263.82,374.43 262.55,374.2 261.27,373.97 260,373.75 258.72,373.53 257.45,373.31 256.17,373.09 254.9,372.87 253.62,372.65 252.35,372.44 251.08,372.22 249.8,372.01 248.53,371.8 247.25,371.59 245.98,371.39 244.7,371.18 243.43,370.98 242.16,370.78 240.88,370.59 239.61,370.39 238.33,370.2 237.06,370.02 235.78,369.83 234.51,369.66 233.23,369.48 231.96,369.31 230.69,369.14 229.41,368.98 228.14,368.82 226.86,368.67 225.59,368.52 224.31,368.38 223.04,368.24 221.76,368.11 220.49,367.99 219.22,367.87 217.94,367.76 216.67,367.65 215.39,367.55 214.12,367.46 212.84,367.37 211.57,367.29 210.29,367.22 209.02,367.16 207.75,367.1 206.47,367.05 205.2,367.01 203.92,366.98 202.65,366.96 201.37,366.94 200.1,366.94 198.82,366.94 197.55,366.95 196.28,366.97 195,366.99 193.73,367.03 192.45,367.07 191.18,367.12 189.9,367.18 188.63,367.24 188.15,367.27 187.35,367.55 186.08,368.03 184.81,368.54 183.53,369.07 182.26,369.62 180.98,370.19 179.71,370.79 178.43,371.4 177.16,372.03 175.88,372.68 174.61,373.34 173.34,374.02 172.06,374.71 170.79,375.41 169.51,376.12 168.24,376.85 166.96,377.57 165.69,378.31 164.41,379.05 163.14,379.79 161.87,380.54 160.59,381.29 159.32,382.04 158.04,382.79 156.77,383.54 155.49,384.28 154.22,385.02 152.94,385.76 151.67,386.49 150.4,387.22 149.12,387.94 147.85,388.65 146.57,389.36 145.3,390.05 144.02,390.74 142.75,391.42 141.47,392.09 140.2,392.75 138.93,393.4 137.65,394.04 136.38,394.67 135.1,395.28 133.83,395.89 132.55,396.48 131.28,397.06 130.01,397.63 128.73,398.19 127.46,398.73 126.18,399.27 124.91,399.79 123.63,400.3 122.36,400.79 121.08,401.28 119.81,401.75 118.54,402.21 117.26,402.66 115.99,403.1 114.71,403.52 113.44,403.93 112.16,404.34 110.89,404.73 109.61,405.11 108.34,405.48 107.07,405.84 105.79,406.19 104.52,406.52 103.24,406.85 101.97,407.17 100.69,407.48 99.42,407.78 98.14,408.07 96.87,408.35 95.6,408.63 94.32,408.89 93.05,409.15 91.77,409.4 90.5,409.64 89.22,409.88 87.95,410.1 86.67,410.32 85.4,410.53 84.13,410.74 82.85,410.94 81.58,411.13 80.3,411.32 79.03,411.5 77.75,411.67 76.48,411.84 75.2,412.01 73.93,412.17 72.66,412.32 71.38,412.47 70.11,412.61 68.83,412.75 67.56,412.88 66.28,413.01 65.01,413.14 63.73,413.26 62.46,413.37 61.19,413.48 59.91,413.59 58.64,413.7 57.36,413.8 56.09,413.9"/></clipPath>
<line x1="82.5" y1="258" x2="82.5" y2="425.3" stroke="#000" stroke-opacity="0.035" stroke-width="0.6"/>
<line x1="139.3" y1="258" x2="139.3" y2="425.3" stroke="#000" stroke-opacity="0.035" stroke-width="0.6"/>
<line x1="196.1" y1="258" x2="196.1" y2="425.3" stroke="#000" stroke-opacity="0.035" stroke-width="0.6"/>
<line x1="252.9" y1="258" x2="252.9" y2="425.3" stroke="#000" stroke-opacity="0.035" stroke-width="0.6"/>
<line x1="309.7" y1="258" x2="309.7" y2="425.3" stroke="#000" stroke-opacity="0.035" stroke-width="0.6"/>
<line x1="32.4" y1="392.79" x2="338.6" y2="392.79" stroke="#000" stroke-opacity="0.035" stroke-width="0.6"/>
<line x1="32.4" y1="341.75" x2="338.6" y2="341.75" stroke="#000" stroke-opacity="0.035" stroke-width="0.6"/>
<line x1="32.4" y1="290.73" x2="338.6" y2="290.73" stroke="#000" stroke-opacity="0.035" stroke-width="0.6"/>
<line x1="54.1" y1="258" x2="54.1" y2="425.3" stroke="#000" stroke-opacity="0.06" stroke-width="0.8"/>
<line x1="110.9" y1="258" x2="110.9" y2="425.3" stroke="#000" stroke-opacity="0.06" stroke-width="0.8"/>
<line x1="167.7" y1="258" x2="167.7" y2="425.3" stroke="#000" stroke-opacity="0.06" stroke-width="0.8"/>
<line x1="224.5" y1="258" x2="224.5" y2="425.3" stroke="#000" stroke-opacity="0.06" stroke-width="0.8"/>
<line x1="281.3" y1="258" x2="281.3" y2="425.3" stroke="#000" stroke-opacity="0.06" stroke-width="0.8"/>
<line x1="338.1" y1="258" x2="338.1" y2="425.3" stroke="#000" stroke-opacity="0.06" stroke-width="0.8"/>
<line x1="32.4" y1="418.3" x2="338.6" y2="418.3" stroke="#000" stroke-opacity="0.06" stroke-width="0.8"/>
<line x1="32.4" y1="367.27" x2="338.6" y2="367.27" stroke="#000" stroke-opacity="0.06" stroke-width="0.8"/>
<line x1="32.4" y1="316.24" x2="338.6" y2="316.24" stroke="#000" stroke-opacity="0.06" stroke-width="0.8"/>
<line x1="32.4" y1="265.21" x2="338.6" y2="265.21" stroke="#000" stroke-opacity="0.06" stroke-width="0.8"/>
<polyline points="56.09,405.3 57.36,405.11 58.64,404.92 59.91,404.72 61.19,404.52 62.46,404.31 63.73,404.11 65.01,403.9 66.28,403.69 67.56,403.47 68.83,403.25 70.11,403.03 71.38,402.81 72.66,402.58 73.93,402.35 75.2,402.11 76.48,401.87 77.75,401.63 79.03,401.38 80.3,401.13 81.58,400.88 82.85,400.62 84.13,400.36 85.4,400.1 86.67,399.83 87.95,399.56 89.22,399.28 90.5,399 91.77,398.72 93.05,398.43 94.32,398.14 95.6,397.84 96.87,397.54 98.14,397.23 99.42,396.92 100.69,396.6 101.97,396.28 103.24,395.96 104.52,395.63 105.79,395.3 107.07,394.96 108.34,394.61 109.61,394.26 110.89,393.91 112.16,393.55 113.44,393.18 114.71,392.82 115.99,392.44 117.26,392.06 118.54,391.67 119.81,391.28 121.08,390.89 122.36,390.49 123.63,390.08 124.91,389.68 126.18,389.26 127.46,388.84 128.73,388.42 130.01,387.99 131.28,387.56 132.55,387.12 133.83,386.68 135.1,386.24 136.38,385.79 137.65,385.34 138.93,384.89 140.2,384.43 141.47,383.97 142.75,383.51 144.02,383.04 145.3,382.57 146.57,382.1 147.85,381.63 149.12,381.15 150.4,380.67 151.67,380.2 152.94,379.72 154.22,379.24 155.49,378.76 156.77,378.28 158.04,377.8 159.32,377.32 160.59,376.84 161.87,376.36 163.14,375.88 164.41,375.4 165.69,374.93 166.96,374.46 168.24,373.99 169.51,373.52 170.79,373.06 172.06,372.6 173.34,372.15 174.61,371.7 175.88,371.26 177.16,370.82 178.43,370.38 179.71,369.95 180.98,369.53 182.26,369.11 183.53,368.7 184.81,368.3 186.08,367.9 187.35,367.51 188.15,367.27 188.63,367.13 189.9,366.75 191.18,366.38 192.45,366.02 193.73,365.66 195,365.31 196.28,364.97 197.55,364.64 198.82,364.32 200.1,364 201.37,363.7 202.65,363.4 203.92,363.11 205.2,362.83 206.47,362.56 207.75,362.29 209.02,362.04 210.29,361.79 211.57,361.55 212.84,361.32 214.12,361.1 215.39,360.88 216.67,360.67 217.94,360.47 219.22,360.28 220.49,360.09 221.76,359.91 223.04,359.73 224.31,359.56 225.59,359.4 226.86,359.24 228.14,359.09 229.41,358.95 230.69,358.8 231.96,358.67 233.23,358.53 234.51,358.41 235.78,358.28 237.06,358.16 238.33,358.04 239.61,357.93 240.88,357.82 242.16,357.71 243.43,357.6 244.7,357.49 245.98,357.39 247.25,357.29 248.53,357.19 249.8,357.09 251.08,356.99 252.35,356.89 253.62,356.79 254.9,356.69 256.17,356.59 257.45,356.49 258.72,356.39 260,356.29 261.27,356.19 262.55,356.09 263.82,355.99 265.09,355.89 266.37,355.79 267.64,355.68 268.92,355.58 270.19,355.48 271.47,355.38 272.74,355.28 274.02,355.18 275.29,355.07 276.56,354.97 277.84,354.87 279.11,354.77 280.39,354.66 281.66,354.56 282.94,354.46 284.21,354.35 285.49,354.25 286.76,354.15 288.03,354.04 289.31,353.94 290.58,353.83 291.86,353.73 293.13,353.63 294.41,353.52 295.68,353.42 296.96,353.31 298.23,353.21 299.5,353.1 300.78,353 302.05,352.89 303.33,352.78 304.6,352.68 305.88,352.57 307.15,352.46 308.43,352.36 309.7,352.25" fill="none" stroke="#565684" stroke-width="1.8" stroke-linejoin="round"/>
<line x1="32.4" y1="367.27" x2="338.6" y2="367.27" stroke="#e2513f" stroke-width="1.2" stroke-dasharray="4.9 4.3"/>
<line x1="188.15" y1="425.3" x2="188.15" y2="258" stroke="#e2513f" stroke-width="1.2" stroke-dasharray="4.9 4.3"/>
</g>
<rect x="32.4" y="258" width="306.2" height="167.3" fill="none" stroke="#2b2b2b" stroke-width="1.2"/>
<text x="1.9" y="240.2" font-family='"Liberation Serif", serif' font-weight="bold" font-size="13" fill="#1a1a1a" stroke="#1a1a1a" stroke-width="0.15">C</text>
<text x="32.2" y="250.7" font-family='"Liberation Serif", serif' font-weight="bold" font-size="12.9" fill="#1a1a1a" stroke="#1a1a1a" stroke-width="0.15">PCHannum</text>
<text x="40.2" y="269.4" font-family='"Liberation Serif", serif' font-size="10" fill="#1a1a1a" stroke="#1a1a1a" stroke-width="0.22"><tspan font-style="italic">P</tspan><tspan dx="2"> for</tspan> overall = 0.014</text>
<text x="42.8" y="279.4" font-family='"Liberation Serif", serif' font-size="10" fill="#1a1a1a" stroke="#1a1a1a" stroke-width="0.22"><tspan font-style="italic">P</tspan><tspan dx="2"> for</tspan> nonlinearity = 0.139</text>
<text x="195.3" y="381" font-family='"Liberation Serif", serif' font-size="10.2" fill="#1a1a1a" stroke="#1a1a1a" stroke-width="0.2">Ref. slope <tspan fill="#777" stroke="#777">=</tspan> 1.37</text>
<text x="54.1" y="437" text-anchor="middle" font-family='"Liberation Serif", serif' font-size="9.6" fill="#262626" stroke="#262626" stroke-width="0.2">-1</text>
<text x="110.9" y="437" text-anchor="middle" font-family='"Liberation Serif", serif' font-size="9.6" fill="#262626" stroke="#262626" stroke-width="0.2">0</text>
<text x="167.7" y="437" text-anchor="middle" font-family='"Liberation Serif", serif' font-size="9.6" fill="#262626" stroke="#262626" stroke-width="0.2">1</text>
<text x="224.5" y="437" text-anchor="middle" font-family='"Liberation Serif", serif' font-size="9.6" fill="#262626" stroke="#262626" stroke-width="0.2">2</text>
<text x="281.3" y="437" text-anchor="middle" font-family='"Liberation Serif", serif' font-size="9.6" fill="#262626" stroke="#262626" stroke-width="0.2">3</text>
<text x="338.1" y="437" text-anchor="middle" font-family='"Liberation Serif", serif' font-size="9.6" fill="#262626" stroke="#262626" stroke-width="0.2">4</text>
<text x="28.3" y="422.2" text-anchor="end" font-family='"Liberation Serif", serif' font-size="9.6" fill="#262626" stroke="#262626" stroke-width="0.2">0</text>
<text x="28.3" y="371.17" text-anchor="end" font-family='"Liberation Serif", serif' font-size="9.6" fill="#262626" stroke="#262626" stroke-width="0.2">1</text>
<text x="28.3" y="320.14" text-anchor="end" font-family='"Liberation Serif", serif' font-size="9.6" fill="#262626" stroke="#262626" stroke-width="0.2">2</text>
<text x="28.3" y="269.11" text-anchor="end" font-family='"Liberation Serif", serif' font-size="9.6" fill="#262626" stroke="#262626" stroke-width="0.2">3</text>
<text x="185.5" y="449.2" text-anchor="middle" font-family='"Liberation Serif", serif' font-weight="bold" font-size="11.5" fill="#1a1a1a" stroke="#1a1a1a" stroke-width="0.12">PCHannum slope (scaled)</text>
<text transform="translate(18.9,341.65) rotate(-90)" text-anchor="middle" font-family='"Liberation Serif", serif' font-weight="bold" font-size="11.5" fill="#1a1a1a" stroke="#1a1a1a" stroke-width="0.12">Hazard Ratio per SD (95% CI)</text>
<clipPath id="clip3"><rect x="384.5" y="258" width="298.8" height="167.3"/></clipPath>
<g clip-path="url(#clip3)">
<path d="M390.27 417.5V413.26H401.89V417.5ZM401.89 417.5V415.08H413.5V417.5ZM413.5 417.5V412.05H425.12V417.5ZM425.12 417.5V404.17H436.73V417.5ZM436.73 417.5V396.29H448.34V417.5ZM448.34 417.5V393.26H459.96V417.5ZM459.96 417.5V390.23H471.57V417.5ZM471.57 417.5V353.87H483.19V417.5ZM483.19 417.5V366.6H494.8V417.5ZM494.8 417.5V354.48H506.41V417.5ZM506.41 417.5V345.99H518.03V417.5ZM518.03 417.5V317.51H529.64V417.5ZM529.64 417.5V293.27H541.26V417.5ZM541.26 417.5V296.91H552.87V417.5ZM552.87 417.5V312.66H564.48V417.5ZM564.48 417.5V280.54H576.1V417.5ZM576.1 417.5V320.54H587.71V417.5ZM587.71 417.5V338.11H599.33V417.5ZM599.33 417.5V382.65H610.94V417.5ZM610.94 417.5V389.02H622.55V417.5ZM622.55 417.5V395.68H634.17V417.5ZM634.17 417.5V408.11H645.78V417.5ZM645.78 417.5V415.08H657.4V417.5ZM657.4 417.5V412.65H669.01V417.5ZM669.01 417.5V415.08H680.62V417.5Z" fill="#c3dae8"/>
<clipPath id="bars3"><path d="M390.27 417.5V413.26H401.89V417.5ZM401.89 417.5V415.08H413.5V417.5ZM413.5 417.5V412.05H425.12V417.5ZM425.12 417.5V404.17H436.73V417.5ZM436.73 417.5V396.29H448.34V417.5ZM448.34 417.5V393.26H459.96V417.5ZM459.96 417.5V390.23H471.57V417.5ZM471.57 417.5V353.87H483.19V417.5ZM483.19 417.5V366.6H494.8V417.5ZM494.8 417.5V354.48H506.41V417.5ZM506.41 417.5V345.99H518.03V417.5ZM518.03 417.5V317.51H529.64V417.5ZM529.64 417.5V293.27H541.26V417.5ZM541.26 417.5V296.91H552.87V417.5ZM552.87 417.5V312.66H564.48V417.5ZM564.48 417.5V280.54H576.1V417.5ZM576.1 417.5V320.54H587.71V417.5ZM587.71 417.5V338.11H599.33V417.5ZM599.33 417.5V382.65H610.94V417.5ZM610.94 417.5V389.02H622.55V417.5ZM622.55 417.5V395.68H634.17V417.5ZM634.17 417.5V408.11H645.78V417.5ZM645.78 417.5V415.08H657.4V417.5ZM657.4 417.5V412.65H669.01V417.5ZM669.01 417.5V415.08H680.62V417.5Z"/></clipPath>
<polygon points="401.89,379.88 403.22,379.74 404.55,379.6 405.88,379.46 407.21,379.31 408.54,379.17 409.87,379.02 411.2,378.87 412.53,378.72 413.86,378.57 415.19,378.41 416.53,378.26 417.86,378.1 419.19,377.94 420.52,377.78 421.85,377.62 423.18,377.46 424.51,377.29 425.84,377.12 427.17,376.95 428.5,376.78 429.83,376.61 431.16,376.43 432.49,376.25 433.82,376.07 435.15,375.89 436.48,375.7 437.82,375.52 439.15,375.33 440.48,375.13 441.81,374.94 443.14,374.74 444.47,374.54 445.8,374.34 447.13,374.14 448.46,373.93 449.79,373.72 451.12,373.5 452.45,373.29 453.78,373.07 455.11,372.84 456.44,372.62 457.78,372.39 459.11,372.16 460.44,371.92 461.77,371.68 463.1,371.44 464.43,371.19 465.76,370.95 467.09,370.69 468.42,370.44 469.75,370.17 471.08,369.91 472.41,369.64 473.74,369.37 475.07,369.09 476.4,368.81 477.74,368.52 479.07,368.23 480.4,367.94 481.73,367.65 483.06,367.35 484.39,367.04 485.72,366.74 487.05,366.43 488.38,366.12 489.71,365.81 491.04,365.5 492.37,365.19 493.7,364.88 495.03,364.57 496.36,364.25 497.69,363.94 499.03,363.63 500.36,363.32 501.69,363.02 503.02,362.71 504.35,362.41 505.68,362.11 507.01,361.82 508.34,361.52 509.67,361.24 511,360.95 512.33,360.68 513.66,360.41 514.99,360.14 516.32,359.88 517.65,359.63 518.99,359.39 520.32,359.16 521.65,358.93 522.98,358.71 524.31,358.51 525.64,358.31 526.97,358.12 528.3,357.95 529.63,357.79 530.96,357.63 532.29,357.5 533.62,357.37 534.95,357.26 536.28,357.16 537.61,357.08 538.94,357.01 540.28,356.96 541.61,356.92 542.94,356.9 544.16,356.9 544.27,356.85 545.6,356.2 546.93,355.56 548.26,354.93 549.59,354.3 550.92,353.68 552.25,353.07 553.58,352.46 554.91,351.86 556.24,351.26 557.57,350.67 558.9,350.09 560.24,349.51 561.57,348.93 562.9,348.35 564.23,347.78 565.56,347.22 566.89,346.65 568.22,346.09 569.55,345.53 570.88,344.97 572.21,344.41 573.54,343.85 574.87,343.3 576.2,342.74 577.53,342.18 578.86,341.62 580.19,341.05 581.53,340.48 582.86,339.91 584.19,339.34 585.52,338.76 586.85,338.17 588.18,337.58 589.51,336.98 590.84,336.37 592.17,335.76 593.5,335.13 594.83,334.5 596.16,333.85 597.49,333.19 598.82,332.52 600.15,331.84 601.49,331.14 602.82,330.44 604.15,329.72 605.48,328.98 606.81,328.24 608.14,327.48 609.47,326.71 610.8,325.92 612.13,325.13 613.46,324.32 614.79,323.49 616.12,322.66 617.45,321.81 618.78,320.94 620.11,320.06 621.45,319.17 622.78,318.27 624.11,317.35 625.44,316.42 626.77,315.47 628.1,314.51 629.43,313.54 630.76,312.55 632.09,311.55 633.42,310.53 634.75,309.5 636.08,308.45 637.41,307.39 638.74,306.32 640.07,305.23 641.4,304.13 642.74,303.01 644.07,301.88 645.4,300.73 646.73,299.57 648.06,298.39 649.39,297.2 650.72,296 652.05,294.78 653.38,293.54 654.71,292.29 656.04,291.03 657.37,289.75 658.7,288.45 660.03,287.15 661.36,285.82 662.7,284.48 664.03,283.13 665.36,281.76 666.69,280.38 666.69,389.02 665.36,388.68 664.03,388.35 662.7,388.01 661.36,387.66 660.03,387.32 658.7,386.97 657.37,386.61 656.04,386.25 654.71,385.89 653.38,385.53 652.05,385.16 650.72,384.78 649.39,384.41 648.06,384.03 646.73,383.64 645.4,383.26 644.07,382.87 642.74,382.47 641.4,382.08 640.07,381.68 638.74,381.27 637.41,380.87 636.08,380.45 634.75,380.04 633.42,379.63 632.09,379.21 630.76,378.78 629.43,378.36 628.1,377.93 626.77,377.5 625.44,377.07 624.11,376.63 622.78,376.19 621.45,375.75 620.11,375.31 618.78,374.86 617.45,374.41 616.12,373.96 614.79,373.51 613.46,373.06 612.13,372.6 610.8,372.14 609.47,371.68 608.14,371.22 606.81,370.76 605.48,370.3 604.15,369.84 602.82,369.37 601.49,368.91 600.15,368.44 598.82,367.97 597.49,367.51 596.16,367.04 594.83,366.57 593.5,366.11 592.17,365.64 590.84,365.18 589.51,364.72 588.18,364.26 586.85,363.81 585.52,363.37 584.19,362.93 582.86,362.49 581.53,362.07 580.19,361.65 578.86,361.25 577.53,360.85 576.2,360.46 574.87,360.09 573.54,359.73 572.21,359.38 570.88,359.05 569.55,358.73 568.22,358.43 566.89,358.15 565.56,357.89 564.23,357.64 562.9,357.42 561.57,357.21 560.24,357.03 558.9,356.88 557.57,356.74 556.24,356.63 554.91,356.55 553.58,356.49 552.25,356.46 550.92,356.46 549.59,356.49 548.26,356.54 546.93,356.63 545.6,356.74 544.27,356.89 544.16,356.9 542.94,357.66 541.61,358.5 540.28,359.35 538.94,360.22 537.61,361.1 536.28,361.98 534.95,362.88 533.62,363.78 532.29,364.69 530.96,365.6 529.63,366.52 528.3,367.44 526.97,368.36 525.64,369.28 524.31,370.2 522.98,371.12 521.65,372.04 520.32,372.95 518.99,373.86 517.65,374.76 516.32,375.65 514.99,376.54 513.66,377.42 512.33,378.3 511,379.16 509.67,380.02 508.34,380.86 507.01,381.7 505.68,382.53 504.35,383.34 503.02,384.14 501.69,384.93 500.36,385.71 499.03,386.48 497.69,387.23 496.36,387.97 495.03,388.7 493.7,389.41 492.37,390.11 491.04,390.8 489.71,391.47 488.38,392.13 487.05,392.78 485.72,393.41 484.39,394.03 483.06,394.64 481.73,395.23 480.4,395.81 479.07,396.37 477.74,396.93 476.4,397.47 475.07,397.99 473.74,398.51 472.41,399.01 471.08,399.5 469.75,399.97 468.42,400.44 467.09,400.89 465.76,401.33 464.43,401.77 463.1,402.19 461.77,402.6 460.44,403 459.11,403.39 457.78,403.77 456.44,404.14 455.11,404.5 453.78,404.85 452.45,405.19 451.12,405.53 449.79,405.85 448.46,406.17 447.13,406.48 445.8,406.78 444.47,407.07 443.14,407.36 441.81,407.63 440.48,407.91 439.15,408.17 437.82,408.43 436.48,408.68 435.15,408.92 433.82,409.16 432.49,409.39 431.16,409.61 429.83,409.83 428.5,410.04 427.17,410.25 425.84,410.45 424.51,410.65 423.18,410.84 421.85,411.03 420.52,411.21 419.19,411.38 417.86,411.55 416.53,411.72 415.19,411.88 413.86,412.04 412.53,412.19 411.2,412.34 409.87,412.49 408.54,412.63 407.21,412.77 405.88,412.9 404.55,413.03 403.22,413.16 401.89,413.28" fill="#f5ebe6"/>
<polygon points="401.89,379.88 403.22,379.74 404.55,379.6 405.88,379.46 407.21,379.31 408.54,379.17 409.87,379.02 411.2,378.87 412.53,378.72 413.86,378.57 415.19,378.41 416.53,378.26 417.86,378.1 419.19,377.94 420.52,377.78 421.85,377.62 423.18,377.46 424.51,377.29 425.84,377.12 427.17,376.95 428.5,376.78 429.83,376.61 431.16,376.43 432.49,376.25 433.82,376.07 435.15,375.89 436.48,375.7 437.82,375.52 439.15,375.33 440.48,375.13 441.81,374.94 443.14,374.74 444.47,374.54 445.8,374.34 447.13,374.14 448.46,373.93 449.79,373.72 451.12,373.5 452.45,373.29 453.78,373.07 455.11,372.84 456.44,372.62 457.78,372.39 459.11,372.16 460.44,371.92 461.77,371.68 463.1,371.44 464.43,371.19 465.76,370.95 467.09,370.69 468.42,370.44 469.75,370.17 471.08,369.91 472.41,369.64 473.74,369.37 475.07,369.09 476.4,368.81 477.74,368.52 479.07,368.23 480.4,367.94 481.73,367.65 483.06,367.35 484.39,367.04 485.72,366.74 487.05,366.43 488.38,366.12 489.71,365.81 491.04,365.5 492.37,365.19 493.7,364.88 495.03,364.57 496.36,364.25 497.69,363.94 499.03,363.63 500.36,363.32 501.69,363.02 503.02,362.71 504.35,362.41 505.68,362.11 507.01,361.82 508.34,361.52 509.67,361.24 511,360.95 512.33,360.68 513.66,360.41 514.99,360.14 516.32,359.88 517.65,359.63 518.99,359.39 520.32,359.16 521.65,358.93 522.98,358.71 524.31,358.51 525.64,358.31 526.97,358.12 528.3,357.95 529.63,357.79 530.96,357.63 532.29,357.5 533.62,357.37 534.95,357.26 536.28,357.16 537.61,357.08 538.94,357.01 540.28,356.96 541.61,356.92 542.94,356.9 544.16,356.9 544.27,356.85 545.6,356.2 546.93,355.56 548.26,354.93 549.59,354.3 550.92,353.68 552.25,353.07 553.58,352.46 554.91,351.86 556.24,351.26 557.57,350.67 558.9,350.09 560.24,349.51 561.57,348.93 562.9,348.35 564.23,347.78 565.56,347.22 566.89,346.65 568.22,346.09 569.55,345.53 570.88,344.97 572.21,344.41 573.54,343.85 574.87,343.3 576.2,342.74 577.53,342.18 578.86,341.62 580.19,341.05 581.53,340.48 582.86,339.91 584.19,339.34 585.52,338.76 586.85,338.17 588.18,337.58 589.51,336.98 590.84,336.37 592.17,335.76 593.5,335.13 594.83,334.5 596.16,333.85 597.49,333.19 598.82,332.52 600.15,331.84 601.49,331.14 602.82,330.44 604.15,329.72 605.48,328.98 606.81,328.24 608.14,327.48 609.47,326.71 610.8,325.92 612.13,325.13 613.46,324.32 614.79,323.49 616.12,322.66 617.45,321.81 618.78,320.94 620.11,320.06 621.45,319.17 622.78,318.27 624.11,317.35 625.44,316.42 626.77,315.47 628.1,314.51 629.43,313.54 630.76,312.55 632.09,311.55 633.42,310.53 634.75,309.5 636.08,308.45 637.41,307.39 638.74,306.32 640.07,305.23 641.4,304.13 642.74,303.01 644.07,301.88 645.4,300.73 646.73,299.57 648.06,298.39 649.39,297.2 650.72,296 652.05,294.78 653.38,293.54 654.71,292.29 656.04,291.03 657.37,289.75 658.7,288.45 660.03,287.15 661.36,285.82 662.7,284.48 664.03,283.13 665.36,281.76 666.69,280.38 666.69,389.02 665.36,388.68 664.03,388.35 662.7,388.01 661.36,387.66 660.03,387.32 658.7,386.97 657.37,386.61 656.04,386.25 654.71,385.89 653.38,385.53 652.05,385.16 650.72,384.78 649.39,384.41 648.06,384.03 646.73,383.64 645.4,383.26 644.07,382.87 642.74,382.47 641.4,382.08 640.07,381.68 638.74,381.27 637.41,380.87 636.08,380.45 634.75,380.04 633.42,379.63 632.09,379.21 630.76,378.78 629.43,378.36 628.1,377.93 626.77,377.5 625.44,377.07 624.11,376.63 622.78,376.19 621.45,375.75 620.11,375.31 618.78,374.86 617.45,374.41 616.12,373.96 614.79,373.51 613.46,373.06 612.13,372.6 610.8,372.14 609.47,371.68 608.14,371.22 606.81,370.76 605.48,370.3 604.15,369.84 602.82,369.37 601.49,368.91 600.15,368.44 598.82,367.97 597.49,367.51 596.16,367.04 594.83,366.57 593.5,366.11 592.17,365.64 590.84,365.18 589.51,364.72 588.18,364.26 586.85,363.81 585.52,363.37 584.19,362.93 582.86,362.49 581.53,362.07 580.19,361.65 578.86,361.25 577.53,360.85 576.2,360.46 574.87,360.09 573.54,359.73 572.21,359.38 570.88,359.05 569.55,358.73 568.22,358.43 566.89,358.15 565.56,357.89 564.23,357.64 562.9,357.42 561.57,357.21 560.24,357.03 558.9,356.88 557.57,356.74 556.24,356.63 554.91,356.55 553.58,356.49 552.25,356.46 550.92,356.46 549.59,356.49 548.26,356.54 546.93,356.63 545.6,356.74 544.27,356.89 544.16,356.9 542.94,357.66 541.61,358.5 540.28,359.35 538.94,360.22 537.61,361.1 536.28,361.98 534.95,362.88 533.62,363.78 532.29,364.69 530.96,365.6 529.63,366.52 528.3,367.44 526.97,368.36 525.64,369.28 524.31,370.2 522.98,371.12 521.65,372.04 520.32,372.95 518.99,373.86 517.65,374.76 516.32,375.65 514.99,376.54 513.66,377.42 512.33,378.3 511,379.16 509.67,380.02 508.34,380.86 507.01,381.7 505.68,382.53 504.35,383.34 503.02,384.14 501.69,384.93 500.36,385.71 499.03,386.48 497.69,387.23 496.36,387.97 495.03,388.7 493.7,389.41 492.37,390.11 491.04,390.8 489.71,391.47 488.38,392.13 487.05,392.78 485.72,393.41 484.39,394.03 483.06,394.64 481.73,395.23 480.4,395.81 479.07,396.37 477.74,396.93 476.4,397.47 475.07,397.99 473.74,398.51 472.41,399.01 471.08,399.5 469.75,399.97 468.42,400.44 467.09,400.89 465.76,401.33 464.43,401.77 463.1,402.19 461.77,402.6 460.44,403 459.11,403.39 457.78,403.77 456.44,404.14 455.11,404.5 453.78,404.85 452.45,405.19 451.12,405.53 449.79,405.85 448.46,406.17 447.13,406.48 445.8,406.78 444.47,407.07 443.14,407.36 441.81,407.63 440.48,407.91 439.15,408.17 437.82,408.43 436.48,408.68 435.15,408.92 433.82,409.16 432.49,409.39 431.16,409.61 429.83,409.83 428.5,410.04 427.17,410.25 425.84,410.45 424.51,410.65 423.18,410.84 421.85,411.03 420.52,411.21 419.19,411.38 417.86,411.55 416.53,411.72 415.19,411.88 413.86,412.04 412.53,412.19 411.2,412.34 409.87,412.49 408.54,412.63 407.21,412.77 405.88,412.9 404.55,413.03 403.22,413.16 401.89,413.28" fill="#ccceda" stroke="#ccceda" stroke-width="0.5" clip-path="url(#bars3)"/>
<clipPath id="bandc3"><polygon points="401.89,379.88 403.22,379.74 404.55,379.6 405.88,379.46 407.21,379.31 408.54,379.17 409.87,379.02 411.2,378.87 412.53,378.72 413.86,378.57 415.19,378.41 416.53,378.26 417.86,378.1 419.19,377.94 420.52,377.78 421.85,377.62 423.18,377.46 424.51,377.29 425.84,377.12 427.17,376.95 428.5,376.78 429.83,376.61 431.16,376.43 432.49,376.25 433.82,376.07 435.15,375.89 436.48,375.7 437.82,375.52 439.15,375.33 440.48,375.13 441.81,374.94 443.14,374.74 444.47,374.54 445.8,374.34 447.13,374.14 448.46,373.93 449.79,373.72 451.12,373.5 452.45,373.29 453.78,373.07 455.11,372.84 456.44,372.62 457.78,372.39 459.11,372.16 460.44,371.92 461.77,371.68 463.1,371.44 464.43,371.19 465.76,370.95 467.09,370.69 468.42,370.44 469.75,370.17 471.08,369.91 472.41,369.64 473.74,369.37 475.07,369.09 476.4,368.81 477.74,368.52 479.07,368.23 480.4,367.94 481.73,367.65 483.06,367.35 484.39,367.04 485.72,366.74 487.05,366.43 488.38,366.12 489.71,365.81 491.04,365.5 492.37,365.19 493.7,364.88 495.03,364.57 496.36,364.25 497.69,363.94 499.03,363.63 500.36,363.32 501.69,363.02 503.02,362.71 504.35,362.41 505.68,362.11 507.01,361.82 508.34,361.52 509.67,361.24 511,360.95 512.33,360.68 513.66,360.41 514.99,360.14 516.32,359.88 517.65,359.63 518.99,359.39 520.32,359.16 521.65,358.93 522.98,358.71 524.31,358.51 525.64,358.31 526.97,358.12 528.3,357.95 529.63,357.79 530.96,357.63 532.29,357.5 533.62,357.37 534.95,357.26 536.28,357.16 537.61,357.08 538.94,357.01 540.28,356.96 541.61,356.92 542.94,356.9 544.16,356.9 544.27,356.85 545.6,356.2 546.93,355.56 548.26,354.93 549.59,354.3 550.92,353.68 552.25,353.07 553.58,352.46 554.91,351.86 556.24,351.26 557.57,350.67 558.9,350.09 560.24,349.51 561.57,348.93 562.9,348.35 564.23,347.78 565.56,347.22 566.89,346.65 568.22,346.09 569.55,345.53 570.88,344.97 572.21,344.41 573.54,343.85 574.87,343.3 576.2,342.74 577.53,342.18 578.86,341.62 580.19,341.05 581.53,340.48 582.86,339.91 584.19,339.34 585.52,338.76 586.85,338.17 588.18,337.58 589.51,336.98 590.84,336.37 592.17,335.76 593.5,335.13 594.83,334.5 596.16,333.85 597.49,333.19 598.82,332.52 600.15,331.84 601.49,331.14 602.82,330.44 604.15,329.72 605.48,328.98 606.81,328.24 608.14,327.48 609.47,326.71 610.8,325.92 612.13,325.13 613.46,324.32 614.79,323.49 616.12,322.66 617.45,321.81 618.78,320.94 620.11,320.06 621.45,319.17 622.78,318.27 624.11,317.35 625.44,316.42 626.77,315.47 628.1,314.51 629.43,313.54 630.76,312.55 632.09,311.55 633.42,310.53 634.75,309.5 636.08,308.45 637.41,307.39 638.74,306.32 640.07,305.23 641.4,304.13 642.74,303.01 644.07,301.88 645.4,300.73 646.73,299.57 648.06,298.39 649.39,297.2 650.72,296 652.05,294.78 653.38,293.54 654.71,292.29 656.04,291.03 657.37,289.75 658.7,288.45 660.03,287.15 661.36,285.82 662.7,284.48 664.03,283.13 665.36,281.76 666.69,280.38 666.69,389.02 665.36,388.68 664.03,388.35 662.7,388.01 661.36,387.66 660.03,387.32 658.7,386.97 657.37,386.61 656.04,386.25 654.71,385.89 653.38,385.53 652.05,385.16 650.72,384.78 649.39,384.41 648.06,384.03 646.73,383.64 645.4,383.26 644.07,382.87 642.74,382.47 641.4,382.08 640.07,381.68 638.74,381.27 637.41,380.87 636.08,380.45 634.75,380.04 633.42,379.63 632.09,379.21 630.76,378.78 629.43,378.36 628.1,377.93 626.77,377.5 625.44,377.07 624.11,376.63 622.78,376.19 621.45,375.75 620.11,375.31 618.78,374.86 617.45,374.41 616.12,373.96 614.79,373.51 613.46,373.06 612.13,372.6 610.8,372.14 609.47,371.68 608.14,371.22 606.81,370.76 605.48,370.3 604.15,369.84 602.82,369.37 601.49,368.91 600.15,368.44 598.82,367.97 597.49,367.51 596.16,367.04 594.83,366.57 593.5,366.11 592.17,365.64 590.84,365.18 589.51,364.72 588.18,364.26 586.85,363.81 585.52,363.37 584.19,362.93 582.86,362.49 581.53,362.07 580.19,361.65 578.86,361.25 577.53,360.85 576.2,360.46 574.87,360.09 573.54,359.73 572.21,359.38 570.88,359.05 569.55,358.73 568.22,358.43 566.89,358.15 565.56,357.89 564.23,357.64 562.9,357.42 561.57,357.21 560.24,357.03 558.9,356.88 557.57,356.74 556.24,356.63 554.91,356.55 553.58,356.49 552.25,356.46 550.92,356.46 549.59,356.49 548.26,356.54 546.93,356.63 545.6,356.74 544.27,356.89 544.16,356.9 542.94,357.66 541.61,358.5 540.28,359.35 538.94,360.22 537.61,361.1 536.28,361.98 534.95,362.88 533.62,363.78 532.29,364.69 530.96,365.6 529.63,366.52 528.3,367.44 526.97,368.36 525.64,369.28 524.31,370.2 522.98,371.12 521.65,372.04 520.32,372.95 518.99,373.86 517.65,374.76 516.32,375.65 514.99,376.54 513.66,377.42 512.33,378.3 511,379.16 509.67,380.02 508.34,380.86 507.01,381.7 505.68,382.53 504.35,383.34 503.02,384.14 501.69,384.93 500.36,385.71 499.03,386.48 497.69,387.23 496.36,387.97 495.03,388.7 493.7,389.41 492.37,390.11 491.04,390.8 489.71,391.47 488.38,392.13 487.05,392.78 485.72,393.41 484.39,394.03 483.06,394.64 481.73,395.23 480.4,395.81 479.07,396.37 477.74,396.93 476.4,397.47 475.07,397.99 473.74,398.51 472.41,399.01 471.08,399.5 469.75,399.97 468.42,400.44 467.09,400.89 465.76,401.33 464.43,401.77 463.1,402.19 461.77,402.6 460.44,403 459.11,403.39 457.78,403.77 456.44,404.14 455.11,404.5 453.78,404.85 452.45,405.19 451.12,405.53 449.79,405.85 448.46,406.17 447.13,406.48 445.8,406.78 444.47,407.07 443.14,407.36 441.81,407.63 440.48,407.91 439.15,408.17 437.82,408.43 436.48,408.68 435.15,408.92 433.82,409.16 432.49,409.39 431.16,409.61 429.83,409.83 428.5,410.04 427.17,410.25 425.84,410.45 424.51,410.65 423.18,410.84 421.85,411.03 420.52,411.21 419.19,411.38 417.86,411.55 416.53,411.72 415.19,411.88 413.86,412.04 412.53,412.19 411.2,412.34 409.87,412.49 408.54,412.63 407.21,412.77 405.88,412.9 404.55,413.03 403.22,413.16 401.89,413.28"/></clipPath>
<line x1="407.69" y1="258" x2="407.69" y2="425.3" stroke="#000" stroke-opacity="0.035" stroke-width="0.6"/>
<line x1="465.76" y1="258" x2="465.76" y2="425.3" stroke="#000" stroke-opacity="0.035" stroke-width="0.6"/>
<line x1="523.84" y1="258" x2="523.84" y2="425.3" stroke="#000" stroke-opacity="0.035" stroke-width="0.6"/>
<line x1="581.9" y1="258" x2="581.9" y2="425.3" stroke="#000" stroke-opacity="0.035" stroke-width="0.6"/>
<line x1="639.98" y1="258" x2="639.98" y2="425.3" stroke="#000" stroke-opacity="0.035" stroke-width="0.6"/>
<line x1="384.5" y1="402.35" x2="683.3" y2="402.35" stroke="#000" stroke-opacity="0.035" stroke-width="0.6"/>
<line x1="384.5" y1="372.05" x2="683.3" y2="372.05" stroke="#000" stroke-opacity="0.035" stroke-width="0.6"/>
<line x1="384.5" y1="341.75" x2="683.3" y2="341.75" stroke="#000" stroke-opacity="0.035" stroke-width="0.6"/>
<line x1="384.5" y1="311.45" x2="683.3" y2="311.45" stroke="#000" stroke-opacity="0.035" stroke-width="0.6"/>
<line x1="384.5" y1="281.15" x2="683.3" y2="281.15" stroke="#000" stroke-opacity="0.035" stroke-width="0.6"/>
<line x1="436.73" y1="258" x2="436.73" y2="425.3" stroke="#000" stroke-opacity="0.06" stroke-width="0.8"/>
<line x1="494.8" y1="258" x2="494.8" y2="425.3" stroke="#000" stroke-opacity="0.06" stroke-width="0.8"/>
<line x1="552.87" y1="258" x2="552.87" y2="425.3" stroke="#000" stroke-opacity="0.06" stroke-width="0.8"/>
<line x1="610.94" y1="258" x2="610.94" y2="425.3" stroke="#000" stroke-opacity="0.06" stroke-width="0.8"/>
<line x1="669.01" y1="258" x2="669.01" y2="425.3" stroke="#000" stroke-opacity="0.06" stroke-width="0.8"/>
<line x1="384.5" y1="417.5" x2="683.3" y2="417.5" stroke="#000" stroke-opacity="0.06" stroke-width="0.8"/>
<line x1="384.5" y1="387.2" x2="683.3" y2="387.2" stroke="#000" stroke-opacity="0.06" stroke-width="0.8"/>
<line x1="384.5" y1="356.9" x2="683.3" y2="356.9" stroke="#000" stroke-opacity="0.06" stroke-width="0.8"/>
<line x1="384.5" y1="326.6" x2="683.3" y2="326.6" stroke="#000" stroke-opacity="0.06" stroke-width="0.8"/>
<line x1="384.5" y1="296.3" x2="683.3" y2="296.3" stroke="#000" stroke-opacity="0.06" stroke-width="0.8"/>
<line x1="384.5" y1="266" x2="683.3" y2="266" stroke="#000" stroke-opacity="0.06" stroke-width="0.8"/>
<polyline points="401.89,404.9 403.22,404.69 404.55,404.49 405.88,404.27 407.21,404.06 408.54,403.84 409.87,403.61 411.2,403.39 412.53,403.16 413.86,402.92 415.19,402.68 416.53,402.44 417.86,402.19 419.19,401.94 420.52,401.69 421.85,401.43 423.18,401.17 424.51,400.9 425.84,400.63 427.17,400.36 428.5,400.08 429.83,399.79 431.16,399.5 432.49,399.21 433.82,398.91 435.15,398.6 436.48,398.3 437.82,397.98 439.15,397.66 440.48,397.34 441.81,397.01 443.14,396.67 444.47,396.33 445.8,395.99 447.13,395.64 448.46,395.28 449.79,394.92 451.12,394.55 452.45,394.17 453.78,393.79 455.11,393.4 456.44,393.01 457.78,392.61 459.11,392.2 460.44,391.79 461.77,391.37 463.1,390.94 464.43,390.51 465.76,390.07 467.09,389.62 468.42,389.16 469.75,388.7 471.08,388.23 472.41,387.75 473.74,387.26 475.07,386.77 476.4,386.27 477.74,385.76 479.07,385.24 480.4,384.71 481.73,384.18 483.06,383.64 484.39,383.09 485.72,382.53 487.05,381.97 488.38,381.4 489.71,380.82 491.04,380.24 492.37,379.65 493.7,379.05 495.03,378.45 496.36,377.85 497.69,377.24 499.03,376.62 500.36,376 501.69,375.38 503.02,374.75 504.35,374.12 505.68,373.49 507.01,372.85 508.34,372.22 509.67,371.58 511,370.94 512.33,370.3 513.66,369.67 514.99,369.03 516.32,368.4 517.65,367.77 518.99,367.14 520.32,366.52 521.65,365.9 522.98,365.28 524.31,364.68 525.64,364.08 526.97,363.48 528.3,362.9 529.63,362.33 530.96,361.76 532.29,361.21 533.62,360.67 534.95,360.14 536.28,359.62 537.61,359.12 538.94,358.64 540.28,358.17 541.61,357.72 542.94,357.28 544.16,356.9 544.27,356.87 545.6,356.47 546.93,356.1 548.26,355.74 549.59,355.4 550.92,355.09 552.25,354.79 553.58,354.51 554.91,354.25 556.24,354.01 557.57,353.78 558.9,353.57 560.24,353.38 561.57,353.2 562.9,353.04 564.23,352.9 565.56,352.77 566.89,352.66 568.22,352.55 569.55,352.46 570.88,352.39 572.21,352.32 573.54,352.27 574.87,352.23 576.2,352.2 577.53,352.18 578.86,352.16 580.19,352.16 581.53,352.16 582.86,352.17 584.19,352.19 585.52,352.21 586.85,352.24 588.18,352.27 589.51,352.31 590.84,352.35 592.17,352.39 593.5,352.44 594.83,352.48 596.16,352.53 597.49,352.58 598.82,352.63 600.15,352.67 601.49,352.72 602.82,352.77 604.15,352.82 605.48,352.86 606.81,352.91 608.14,352.96 609.47,353 610.8,353.05 612.13,353.1 613.46,353.15 614.79,353.19 616.12,353.24 617.45,353.29 618.78,353.33 620.11,353.38 621.45,353.43 622.78,353.47 624.11,353.52 625.44,353.57 626.77,353.62 628.1,353.66 629.43,353.71 630.76,353.76 632.09,353.8 633.42,353.85 634.75,353.9 636.08,353.94 637.41,353.99 638.74,354.04 640.07,354.08 641.4,354.13 642.74,354.17 644.07,354.22 645.4,354.27 646.73,354.31 648.06,354.36 649.39,354.41 650.72,354.45 652.05,354.5 653.38,354.54 654.71,354.59 656.04,354.64 657.37,354.68 658.7,354.73 660.03,354.77 661.36,354.82 662.7,354.87 664.03,354.91 665.36,354.96 666.69,355" fill="none" stroke="#565684" stroke-width="1.8" stroke-linejoin="round"/>
<line x1="384.5" y1="356.9" x2="683.3" y2="356.9" stroke="#e2513f" stroke-width="1.2" stroke-dasharray="4.9 4.3"/>
<line x1="544.74" y1="425.3" x2="544.74" y2="258" stroke="#e2513f" stroke-width="1.2" stroke-dasharray="4.9 4.3"/>
</g>
<rect x="384.5" y="258" width="298.8" height="167.3" fill="none" stroke="#2b2b2b" stroke-width="1.2"/>
<text x="346.5" y="240.5" font-family='"Liberation Serif", serif' font-weight="bold" font-size="13" fill="#1a1a1a" stroke="#1a1a1a" stroke-width="0.15">D</text>
<text x="384.4" y="250.7" font-family='"Liberation Serif", serif' font-weight="bold" font-size="12.9" fill="#1a1a1a" stroke="#1a1a1a" stroke-width="0.15">PCPhenoAge</text>
<text x="392.6" y="269.4" font-family='"Liberation Serif", serif' font-size="10" fill="#1a1a1a" stroke="#1a1a1a" stroke-width="0.22"><tspan font-style="italic">P</tspan><tspan dx="2"> for</tspan> overall = 0.009</text>
<text x="394.9" y="279.4" font-family='"Liberation Serif", serif' font-size="10" fill="#1a1a1a" stroke="#1a1a1a" stroke-width="0.22"><tspan font-style="italic">P</tspan><tspan dx="2"> for</tspan> nonlinearity = 0.069</text>
<text x="545.2" y="366.4" font-family='"Liberation Serif", serif' font-size="10.2" fill="#1a1a1a" stroke="#1a1a1a" stroke-width="0.2">Ref. slope <tspan fill="#777" stroke="#777">=</tspan> 0.87</text>
<text x="436.73" y="437" text-anchor="middle" font-family='"Liberation Serif", serif' font-size="9.6" fill="#262626" stroke="#262626" stroke-width="0.2">-1</text>
<text x="494.8" y="437" text-anchor="middle" font-family='"Liberation Serif", serif' font-size="9.6" fill="#262626" stroke="#262626" stroke-width="0.2">0</text>
<text x="552.87" y="437" text-anchor="middle" font-family='"Liberation Serif", serif' font-size="9.6" fill="#262626" stroke="#262626" stroke-width="0.2">1</text>
<text x="610.94" y="437" text-anchor="middle" font-family='"Liberation Serif", serif' font-size="9.6" fill="#262626" stroke="#262626" stroke-width="0.2">2</text>
<text x="669.01" y="437" text-anchor="middle" font-family='"Liberation Serif", serif' font-size="9.6" fill="#262626" stroke="#262626" stroke-width="0.2">3</text>
<text x="380.4" y="421.4" text-anchor="end" font-family='"Liberation Serif", serif' font-size="9.6" fill="#262626" stroke="#262626" stroke-width="0.2">0.0</text>
<text x="380.4" y="391.1" text-anchor="end" font-family='"Liberation Serif", serif' font-size="9.6" fill="#262626" stroke="#262626" stroke-width="0.2">0.5</text>
<text x="380.4" y="360.8" text-anchor="end" font-family='"Liberation Serif", serif' font-size="9.6" fill="#262626" stroke="#262626" stroke-width="0.2">1.0</text>
<text x="380.4" y="330.5" text-anchor="end" font-family='"Liberation Serif", serif' font-size="9.6" fill="#262626" stroke="#262626" stroke-width="0.2">1.5</text>
<text x="380.4" y="300.2" text-anchor="end" font-family='"Liberation Serif", serif' font-size="9.6" fill="#262626" stroke="#262626" stroke-width="0.2">2.0</text>
<text x="380.4" y="269.9" text-anchor="end" font-family='"Liberation Serif", serif' font-size="9.6" fill="#262626" stroke="#262626" stroke-width="0.2">2.5</text>
<text x="533.9" y="449.2" text-anchor="middle" font-family='"Liberation Serif", serif' font-weight="bold" font-size="11.5" fill="#1a1a1a" stroke="#1a1a1a" stroke-width="0.12">PCPhenoAge slope (scaled)</text>
<text transform="translate(364.2,341.65) rotate(-90)" text-anchor="middle" font-family='"Liberation Serif", serif' font-weight="bold" font-size="11.5" fill="#1a1a1a" stroke="#1a1a1a" stroke-width="0.12">Hazard Ratio per SD (95% CI)</text>
<clipPath id="clip4"><rect x="39.4" y="488" width="299.2" height="167.5"/></clipPath>
<g clip-path="url(#clip4)">
<path d="M47.5 647.6V645.32H59V647.6ZM59 647.6V636.19H70.5V647.6ZM70.5 647.6V639.99H82V647.6ZM82 647.6V639.99H93.5V647.6ZM93.5 647.6V634.66H105V647.6ZM105 647.6V617.16H116.5V647.6ZM116.5 647.6V625.53H128V647.6ZM128 647.6V610.31H139.5V647.6ZM139.5 647.6V598.13H151V647.6ZM151 647.6V564.65H162.5V647.6ZM162.5 647.6V569.22H174V647.6ZM174 647.6V541.82H185.5V647.6ZM185.5 647.6V541.82H197V647.6ZM197 647.6V534.97H208.5V647.6ZM208.5 647.6V520.89H220V647.6ZM220 647.6V539.54H231.5V647.6ZM231.5 647.6V539.54H243V647.6ZM243 647.6V544.87H254.5V647.6ZM254.5 647.6V566.93H266V647.6ZM266 647.6V579.11H277.5V647.6ZM277.5 647.6V625.53H289V647.6ZM289 647.6V624.01H300.5V647.6ZM300.5 647.6V639.23H312V647.6ZM312 647.6V642.27H323.5V647.6Z" fill="#c3dae8"/>
<clipPath id="bars4"><path d="M47.5 647.6V645.32H59V647.6ZM59 647.6V636.19H70.5V647.6ZM70.5 647.6V639.99H82V647.6ZM82 647.6V639.99H93.5V647.6ZM93.5 647.6V634.66H105V647.6ZM105 647.6V617.16H116.5V647.6ZM116.5 647.6V625.53H128V647.6ZM128 647.6V610.31H139.5V647.6ZM139.5 647.6V598.13H151V647.6ZM151 647.6V564.65H162.5V647.6ZM162.5 647.6V569.22H174V647.6ZM174 647.6V541.82H185.5V647.6ZM185.5 647.6V541.82H197V647.6ZM197 647.6V534.97H208.5V647.6ZM208.5 647.6V520.89H220V647.6ZM220 647.6V539.54H231.5V647.6ZM231.5 647.6V539.54H243V647.6ZM243 647.6V544.87H254.5V647.6ZM254.5 647.6V566.93H266V647.6ZM266 647.6V579.11H277.5V647.6ZM277.5 647.6V625.53H289V647.6ZM289 647.6V624.01H300.5V647.6ZM300.5 647.6V639.23H312V647.6ZM312 647.6V642.27H323.5V647.6Z"/></clipPath>
<polygon points="63.02,598.99 64.31,598.6 65.59,598.22 66.87,597.85 68.16,597.48 69.44,597.12 70.72,596.77 72.01,596.41 73.29,596.07 74.57,595.73 75.85,595.39 77.14,595.06 78.42,594.74 79.7,594.42 80.99,594.11 82.27,593.8 83.55,593.49 84.83,593.2 86.12,592.9 87.4,592.61 88.68,592.33 89.97,592.05 91.25,591.77 92.53,591.5 93.81,591.23 95.1,590.96 96.38,590.7 97.66,590.45 98.95,590.19 100.23,589.94 101.51,589.7 102.8,589.45 104.08,589.21 105.36,588.97 106.64,588.74 107.93,588.5 109.21,588.27 110.49,588.04 111.78,587.82 113.06,587.59 114.34,587.37 115.62,587.15 116.91,586.92 118.19,586.7 119.47,586.48 120.76,586.26 122.04,586.04 123.32,585.82 124.6,585.6 125.89,585.38 127.17,585.16 128.45,584.94 129.74,584.72 131.02,584.49 132.3,584.27 133.59,584.04 134.87,583.81 136.15,583.58 137.43,583.35 138.72,583.11 140,582.87 141.28,582.63 142.57,582.38 143.85,582.13 145.13,581.88 146.41,581.63 147.7,581.37 148.98,581.11 150.26,580.85 151.55,580.59 152.83,580.33 154.11,580.07 155.39,579.8 156.68,579.54 157.96,579.27 159.24,579.01 160.53,578.74 161.81,578.48 163.09,578.21 164.38,577.95 165.66,577.69 166.94,577.42 168.22,577.16 169.51,576.91 170.79,576.65 172.07,576.4 173.36,576.15 174.64,575.9 175.92,575.66 177.2,575.41 178.49,575.18 179.77,574.94 181.05,574.72 182.34,574.49 183.62,574.27 184.9,574.06 186.18,573.85 187.47,573.65 188.75,573.45 190.03,573.26 191.32,573.08 192.6,572.91 193.88,572.74 195.17,572.58 196.45,572.43 197.73,572.28 199.01,572.15 200.3,572.02 201.58,571.9 202.86,571.8 204.15,571.7 205.43,571.61 206.71,571.53 207.35,571.5 207.99,571.18 209.28,570.54 210.56,569.91 211.84,569.3 213.13,568.7 214.41,568.11 215.69,567.54 216.97,566.97 218.26,566.42 219.54,565.88 220.82,565.34 222.11,564.82 223.39,564.31 224.67,563.8 225.96,563.31 227.24,562.83 228.52,562.35 229.8,561.88 231.09,561.42 232.37,560.96 233.65,560.52 234.94,560.07 236.22,559.64 237.5,559.21 238.78,558.78 240.07,558.36 241.35,557.94 242.63,557.52 243.92,557.11 245.2,556.7 246.48,556.28 247.76,555.87 249.05,555.46 250.33,555.05 251.61,554.64 252.9,554.22 254.18,553.81 255.46,553.39 256.75,552.96 258.03,552.53 259.31,552.1 260.59,551.65 261.88,551.21 263.16,550.75 264.44,550.29 265.73,549.81 267.01,549.33 268.29,548.84 269.57,548.33 270.86,547.82 272.14,547.3 273.42,546.77 274.71,546.22 275.99,545.67 277.27,545.11 278.55,544.54 279.84,543.96 281.12,543.37 282.4,542.77 283.69,542.16 284.97,541.54 286.25,540.91 287.54,540.27 288.82,539.62 290.1,538.96 291.38,538.29 292.67,537.62 293.95,536.93 295.23,536.23 296.52,535.53 297.8,534.81 299.08,534.08 300.36,533.35 301.65,532.6 302.93,531.85 304.21,531.09 305.5,530.32 306.78,529.53 308.06,528.74 309.34,527.94 310.63,527.13 311.91,526.31 313.19,525.49 314.48,524.65 315.76,523.8 317.04,522.95 318.33,522.08 318.33,616.62 317.04,616.17 315.76,615.71 314.48,615.25 313.19,614.78 311.91,614.3 310.63,613.82 309.34,613.33 308.06,612.84 306.78,612.34 305.5,611.84 304.21,611.33 302.93,610.81 301.65,610.29 300.36,609.76 299.08,609.23 297.8,608.69 296.52,608.14 295.23,607.59 293.95,607.03 292.67,606.47 291.38,605.9 290.1,605.33 288.82,604.75 287.54,604.16 286.25,603.57 284.97,602.97 283.69,602.37 282.4,601.76 281.12,601.14 279.84,600.53 278.55,599.9 277.27,599.27 275.99,598.64 274.71,598 273.42,597.35 272.14,596.7 270.86,596.05 269.57,595.39 268.29,594.72 267.01,594.05 265.73,593.38 264.44,592.7 263.16,592.02 261.88,591.34 260.59,590.65 259.31,589.96 258.03,589.27 256.75,588.58 255.46,587.89 254.18,587.2 252.9,586.52 251.61,585.83 250.33,585.15 249.05,584.48 247.76,583.8 246.48,583.14 245.2,582.48 243.92,581.83 242.63,581.19 241.35,580.56 240.07,579.95 238.78,579.34 237.5,578.75 236.22,578.17 234.94,577.61 233.65,577.06 232.37,576.54 231.09,576.03 229.8,575.54 228.52,575.08 227.24,574.63 225.96,574.22 224.67,573.82 223.39,573.45 222.11,573.11 220.82,572.8 219.54,572.52 218.26,572.27 216.97,572.05 215.69,571.86 214.41,571.71 213.13,571.59 211.84,571.5 210.56,571.46 209.28,571.44 207.99,571.47 207.35,571.5 206.71,571.83 205.43,572.51 204.15,573.24 202.86,574 201.58,574.79 200.3,575.61 199.01,576.46 197.73,577.34 196.45,578.24 195.17,579.17 193.88,580.11 192.6,581.08 191.32,582.06 190.03,583.06 188.75,584.07 187.47,585.09 186.18,586.13 184.9,587.17 183.62,588.22 182.34,589.27 181.05,590.33 179.77,591.39 178.49,592.44 177.2,593.5 175.92,594.56 174.64,595.61 173.36,596.66 172.07,597.71 170.79,598.74 169.51,599.77 168.22,600.79 166.94,601.8 165.66,602.81 164.38,603.8 163.09,604.78 161.81,605.74 160.53,606.7 159.24,607.64 157.96,608.56 156.68,609.47 155.39,610.37 154.11,611.25 152.83,612.12 151.55,612.97 150.26,613.81 148.98,614.63 147.7,615.43 146.41,616.22 145.13,616.99 143.85,617.74 142.57,618.48 141.28,619.2 140,619.9 138.72,620.59 137.43,621.26 136.15,621.92 134.87,622.56 133.59,623.18 132.3,623.79 131.02,624.39 129.74,624.97 128.45,625.53 127.17,626.08 125.89,626.62 124.6,627.15 123.32,627.66 122.04,628.16 120.76,628.64 119.47,629.11 118.19,629.58 116.91,630.02 115.62,630.46 114.34,630.89 113.06,631.3 111.78,631.71 110.49,632.1 109.21,632.48 107.93,632.86 106.64,633.22 105.36,633.57 104.08,633.91 102.8,634.25 101.51,634.57 100.23,634.89 98.95,635.2 97.66,635.5 96.38,635.79 95.1,636.07 93.81,636.35 92.53,636.62 91.25,636.88 89.97,637.13 88.68,637.38 87.4,637.62 86.12,637.85 84.83,638.07 83.55,638.29 82.27,638.51 80.99,638.72 79.7,638.92 78.42,639.11 77.14,639.3 75.85,639.49 74.57,639.67 73.29,639.84 72.01,640.01 70.72,640.18 69.44,640.34 68.16,640.49 66.87,640.65 65.59,640.79 64.31,640.93 63.02,641.07" fill="#f5ebe6"/>
<polygon points="63.02,598.99 64.31,598.6 65.59,598.22 66.87,597.85 68.16,597.48 69.44,597.12 70.72,596.77 72.01,596.41 73.29,596.07 74.57,595.73 75.85,595.39 77.14,595.06 78.42,594.74 79.7,594.42 80.99,594.11 82.27,593.8 83.55,593.49 84.83,593.2 86.12,592.9 87.4,592.61 88.68,592.33 89.97,592.05 91.25,591.77 92.53,591.5 93.81,591.23 95.1,590.96 96.38,590.7 97.66,590.45 98.95,590.19 100.23,589.94 101.51,589.7 102.8,589.45 104.08,589.21 105.36,588.97 106.64,588.74 107.93,588.5 109.21,588.27 110.49,588.04 111.78,587.82 113.06,587.59 114.34,587.37 115.62,587.15 116.91,586.92 118.19,586.7 119.47,586.48 120.76,586.26 122.04,586.04 123.32,585.82 124.6,585.6 125.89,585.38 127.17,585.16 128.45,584.94 129.74,584.72 131.02,584.49 132.3,584.27 133.59,584.04 134.87,583.81 136.15,583.58 137.43,583.35 138.72,583.11 140,582.87 141.28,582.63 142.57,582.38 143.85,582.13 145.13,581.88 146.41,581.63 147.7,581.37 148.98,581.11 150.26,580.85 151.55,580.59 152.83,580.33 154.11,580.07 155.39,579.8 156.68,579.54 157.96,579.27 159.24,579.01 160.53,578.74 161.81,578.48 163.09,578.21 164.38,577.95 165.66,577.69 166.94,577.42 168.22,577.16 169.51,576.91 170.79,576.65 172.07,576.4 173.36,576.15 174.64,575.9 175.92,575.66 177.2,575.41 178.49,575.18 179.77,574.94 181.05,574.72 182.34,574.49 183.62,574.27 184.9,574.06 186.18,573.85 187.47,573.65 188.75,573.45 190.03,573.26 191.32,573.08 192.6,572.91 193.88,572.74 195.17,572.58 196.45,572.43 197.73,572.28 199.01,572.15 200.3,572.02 201.58,571.9 202.86,571.8 204.15,571.7 205.43,571.61 206.71,571.53 207.35,571.5 207.99,571.18 209.28,570.54 210.56,569.91 211.84,569.3 213.13,568.7 214.41,568.11 215.69,567.54 216.97,566.97 218.26,566.42 219.54,565.88 220.82,565.34 222.11,564.82 223.39,564.31 224.67,563.8 225.96,563.31 227.24,562.83 228.52,562.35 229.8,561.88 231.09,561.42 232.37,560.96 233.65,560.52 234.94,560.07 236.22,559.64 237.5,559.21 238.78,558.78 240.07,558.36 241.35,557.94 242.63,557.52 243.92,557.11 245.2,556.7 246.48,556.28 247.76,555.87 249.05,555.46 250.33,555.05 251.61,554.64 252.9,554.22 254.18,553.81 255.46,553.39 256.75,552.96 258.03,552.53 259.31,552.1 260.59,551.65 261.88,551.21 263.16,550.75 264.44,550.29 265.73,549.81 267.01,549.33 268.29,548.84 269.57,548.33 270.86,547.82 272.14,547.3 273.42,546.77 274.71,546.22 275.99,545.67 277.27,545.11 278.55,544.54 279.84,543.96 281.12,543.37 282.4,542.77 283.69,542.16 284.97,541.54 286.25,540.91 287.54,540.27 288.82,539.62 290.1,538.96 291.38,538.29 292.67,537.62 293.95,536.93 295.23,536.23 296.52,535.53 297.8,534.81 299.08,534.08 300.36,533.35 301.65,532.6 302.93,531.85 304.21,531.09 305.5,530.32 306.78,529.53 308.06,528.74 309.34,527.94 310.63,527.13 311.91,526.31 313.19,525.49 314.48,524.65 315.76,523.8 317.04,522.95 318.33,522.08 318.33,616.62 317.04,616.17 315.76,615.71 314.48,615.25 313.19,614.78 311.91,614.3 310.63,613.82 309.34,613.33 308.06,612.84 306.78,612.34 305.5,611.84 304.21,611.33 302.93,610.81 301.65,610.29 300.36,609.76 299.08,609.23 297.8,608.69 296.52,608.14 295.23,607.59 293.95,607.03 292.67,606.47 291.38,605.9 290.1,605.33 288.82,604.75 287.54,604.16 286.25,603.57 284.97,602.97 283.69,602.37 282.4,601.76 281.12,601.14 279.84,600.53 278.55,599.9 277.27,599.27 275.99,598.64 274.71,598 273.42,597.35 272.14,596.7 270.86,596.05 269.57,595.39 268.29,594.72 267.01,594.05 265.73,593.38 264.44,592.7 263.16,592.02 261.88,591.34 260.59,590.65 259.31,589.96 258.03,589.27 256.75,588.58 255.46,587.89 254.18,587.2 252.9,586.52 251.61,585.83 250.33,585.15 249.05,584.48 247.76,583.8 246.48,583.14 245.2,582.48 243.92,581.83 242.63,581.19 241.35,580.56 240.07,579.95 238.78,579.34 237.5,578.75 236.22,578.17 234.94,577.61 233.65,577.06 232.37,576.54 231.09,576.03 229.8,575.54 228.52,575.08 227.24,574.63 225.96,574.22 224.67,573.82 223.39,573.45 222.11,573.11 220.82,572.8 219.54,572.52 218.26,572.27 216.97,572.05 215.69,571.86 214.41,571.71 213.13,571.59 211.84,571.5 210.56,571.46 209.28,571.44 207.99,571.47 207.35,571.5 206.71,571.83 205.43,572.51 204.15,573.24 202.86,574 201.58,574.79 200.3,575.61 199.01,576.46 197.73,577.34 196.45,578.24 195.17,579.17 193.88,580.11 192.6,581.08 191.32,582.06 190.03,583.06 188.75,584.07 187.47,585.09 186.18,586.13 184.9,587.17 183.62,588.22 182.34,589.27 181.05,590.33 179.77,591.39 178.49,592.44 177.2,593.5 175.92,594.56 174.64,595.61 173.36,596.66 172.07,597.71 170.79,598.74 169.51,599.77 168.22,600.79 166.94,601.8 165.66,602.81 164.38,603.8 163.09,604.78 161.81,605.74 160.53,606.7 159.24,607.64 157.96,608.56 156.68,609.47 155.39,610.37 154.11,611.25 152.83,612.12 151.55,612.97 150.26,613.81 148.98,614.63 147.7,615.43 146.41,616.22 145.13,616.99 143.85,617.74 142.57,618.48 141.28,619.2 140,619.9 138.72,620.59 137.43,621.26 136.15,621.92 134.87,622.56 133.59,623.18 132.3,623.79 131.02,624.39 129.74,624.97 128.45,625.53 127.17,626.08 125.89,626.62 124.6,627.15 123.32,627.66 122.04,628.16 120.76,628.64 119.47,629.11 118.19,629.58 116.91,630.02 115.62,630.46 114.34,630.89 113.06,631.3 111.78,631.71 110.49,632.1 109.21,632.48 107.93,632.86 106.64,633.22 105.36,633.57 104.08,633.91 102.8,634.25 101.51,634.57 100.23,634.89 98.95,635.2 97.66,635.5 96.38,635.79 95.1,636.07 93.81,636.35 92.53,636.62 91.25,636.88 89.97,637.13 88.68,637.38 87.4,637.62 86.12,637.85 84.83,638.07 83.55,638.29 82.27,638.51 80.99,638.72 79.7,638.92 78.42,639.11 77.14,639.3 75.85,639.49 74.57,639.67 73.29,639.84 72.01,640.01 70.72,640.18 69.44,640.34 68.16,640.49 66.87,640.65 65.59,640.79 64.31,640.93 63.02,641.07" fill="#ccceda" stroke="#ccceda" stroke-width="0.5" clip-path="url(#bars4)"/>
<clipPath id="bandc4"><polygon points="63.02,598.99 64.31,598.6 65.59,598.22 66.87,597.85 68.16,597.48 69.44,597.12 70.72,596.77 72.01,596.41 73.29,596.07 74.57,595.73 75.85,595.39 77.14,595.06 78.42,594.74 79.7,594.42 80.99,594.11 82.27,593.8 83.55,593.49 84.83,593.2 86.12,592.9 87.4,592.61 88.68,592.33 89.97,592.05 91.25,591.77 92.53,591.5 93.81,591.23 95.1,590.96 96.38,590.7 97.66,590.45 98.95,590.19 100.23,589.94 101.51,589.7 102.8,589.45 104.08,589.21 105.36,588.97 106.64,588.74 107.93,588.5 109.21,588.27 110.49,588.04 111.78,587.82 113.06,587.59 114.34,587.37 115.62,587.15 116.91,586.92 118.19,586.7 119.47,586.48 120.76,586.26 122.04,586.04 123.32,585.82 124.6,585.6 125.89,585.38 127.17,585.16 128.45,584.94 129.74,584.72 131.02,584.49 132.3,584.27 133.59,584.04 134.87,583.81 136.15,583.58 137.43,583.35 138.72,583.11 140,582.87 141.28,582.63 142.57,582.38 143.85,582.13 145.13,581.88 146.41,581.63 147.7,581.37 148.98,581.11 150.26,580.85 151.55,580.59 152.83,580.33 154.11,580.07 155.39,579.8 156.68,579.54 157.96,579.27 159.24,579.01 160.53,578.74 161.81,578.48 163.09,578.21 164.38,577.95 165.66,577.69 166.94,577.42 168.22,577.16 169.51,576.91 170.79,576.65 172.07,576.4 173.36,576.15 174.64,575.9 175.92,575.66 177.2,575.41 178.49,575.18 179.77,574.94 181.05,574.72 182.34,574.49 183.62,574.27 184.9,574.06 186.18,573.85 187.47,573.65 188.75,573.45 190.03,573.26 191.32,573.08 192.6,572.91 193.88,572.74 195.17,572.58 196.45,572.43 197.73,572.28 199.01,572.15 200.3,572.02 201.58,571.9 202.86,571.8 204.15,571.7 205.43,571.61 206.71,571.53 207.35,571.5 207.99,571.18 209.28,570.54 210.56,569.91 211.84,569.3 213.13,568.7 214.41,568.11 215.69,567.54 216.97,566.97 218.26,566.42 219.54,565.88 220.82,565.34 222.11,564.82 223.39,564.31 224.67,563.8 225.96,563.31 227.24,562.83 228.52,562.35 229.8,561.88 231.09,561.42 232.37,560.96 233.65,560.52 234.94,560.07 236.22,559.64 237.5,559.21 238.78,558.78 240.07,558.36 241.35,557.94 242.63,557.52 243.92,557.11 245.2,556.7 246.48,556.28 247.76,555.87 249.05,555.46 250.33,555.05 251.61,554.64 252.9,554.22 254.18,553.81 255.46,553.39 256.75,552.96 258.03,552.53 259.31,552.1 260.59,551.65 261.88,551.21 263.16,550.75 264.44,550.29 265.73,549.81 267.01,549.33 268.29,548.84 269.57,548.33 270.86,547.82 272.14,547.3 273.42,546.77 274.71,546.22 275.99,545.67 277.27,545.11 278.55,544.54 279.84,543.96 281.12,543.37 282.4,542.77 283.69,542.16 284.97,541.54 286.25,540.91 287.54,540.27 288.82,539.62 290.1,538.96 291.38,538.29 292.67,537.62 293.95,536.93 295.23,536.23 296.52,535.53 297.8,534.81 299.08,534.08 300.36,533.35 301.65,532.6 302.93,531.85 304.21,531.09 305.5,530.32 306.78,529.53 308.06,528.74 309.34,527.94 310.63,527.13 311.91,526.31 313.19,525.49 314.48,524.65 315.76,523.8 317.04,522.95 318.33,522.08 318.33,616.62 317.04,616.17 315.76,615.71 314.48,615.25 313.19,614.78 311.91,614.3 310.63,613.82 309.34,613.33 308.06,612.84 306.78,612.34 305.5,611.84 304.21,611.33 302.93,610.81 301.65,610.29 300.36,609.76 299.08,609.23 297.8,608.69 296.52,608.14 295.23,607.59 293.95,607.03 292.67,606.47 291.38,605.9 290.1,605.33 288.82,604.75 287.54,604.16 286.25,603.57 284.97,602.97 283.69,602.37 282.4,601.76 281.12,601.14 279.84,600.53 278.55,599.9 277.27,599.27 275.99,598.64 274.71,598 273.42,597.35 272.14,596.7 270.86,596.05 269.57,595.39 268.29,594.72 267.01,594.05 265.73,593.38 264.44,592.7 263.16,592.02 261.88,591.34 260.59,590.65 259.31,589.96 258.03,589.27 256.75,588.58 255.46,587.89 254.18,587.2 252.9,586.52 251.61,585.83 250.33,585.15 249.05,584.48 247.76,583.8 246.48,583.14 245.2,582.48 243.92,581.83 242.63,581.19 241.35,580.56 240.07,579.95 238.78,579.34 237.5,578.75 236.22,578.17 234.94,577.61 233.65,577.06 232.37,576.54 231.09,576.03 229.8,575.54 228.52,575.08 227.24,574.63 225.96,574.22 224.67,573.82 223.39,573.45 222.11,573.11 220.82,572.8 219.54,572.52 218.26,572.27 216.97,572.05 215.69,571.86 214.41,571.71 213.13,571.59 211.84,571.5 210.56,571.46 209.28,571.44 207.99,571.47 207.35,571.5 206.71,571.83 205.43,572.51 204.15,573.24 202.86,574 201.58,574.79 200.3,575.61 199.01,576.46 197.73,577.34 196.45,578.24 195.17,579.17 193.88,580.11 192.6,581.08 191.32,582.06 190.03,583.06 188.75,584.07 187.47,585.09 186.18,586.13 184.9,587.17 183.62,588.22 182.34,589.27 181.05,590.33 179.77,591.39 178.49,592.44 177.2,593.5 175.92,594.56 174.64,595.61 173.36,596.66 172.07,597.71 170.79,598.74 169.51,599.77 168.22,600.79 166.94,601.8 165.66,602.81 164.38,603.8 163.09,604.78 161.81,605.74 160.53,606.7 159.24,607.64 157.96,608.56 156.68,609.47 155.39,610.37 154.11,611.25 152.83,612.12 151.55,612.97 150.26,613.81 148.98,614.63 147.7,615.43 146.41,616.22 145.13,616.99 143.85,617.74 142.57,618.48 141.28,619.2 140,619.9 138.72,620.59 137.43,621.26 136.15,621.92 134.87,622.56 133.59,623.18 132.3,623.79 131.02,624.39 129.74,624.97 128.45,625.53 127.17,626.08 125.89,626.62 124.6,627.15 123.32,627.66 122.04,628.16 120.76,628.64 119.47,629.11 118.19,629.58 116.91,630.02 115.62,630.46 114.34,630.89 113.06,631.3 111.78,631.71 110.49,632.1 109.21,632.48 107.93,632.86 106.64,633.22 105.36,633.57 104.08,633.91 102.8,634.25 101.51,634.57 100.23,634.89 98.95,635.2 97.66,635.5 96.38,635.79 95.1,636.07 93.81,636.35 92.53,636.62 91.25,636.88 89.97,637.13 88.68,637.38 87.4,637.62 86.12,637.85 84.83,638.07 83.55,638.29 82.27,638.51 80.99,638.72 79.7,638.92 78.42,639.11 77.14,639.3 75.85,639.49 74.57,639.67 73.29,639.84 72.01,640.01 70.72,640.18 69.44,640.34 68.16,640.49 66.87,640.65 65.59,640.79 64.31,640.93 63.02,641.07"/></clipPath>
<line x1="53.25" y1="488" x2="53.25" y2="655.5" stroke="#000" stroke-opacity="0.035" stroke-width="0.6"/>
<line x1="110.75" y1="488" x2="110.75" y2="655.5" stroke="#000" stroke-opacity="0.035" stroke-width="0.6"/>
<line x1="168.25" y1="488" x2="168.25" y2="655.5" stroke="#000" stroke-opacity="0.035" stroke-width="0.6"/>
<line x1="225.75" y1="488" x2="225.75" y2="655.5" stroke="#000" stroke-opacity="0.035" stroke-width="0.6"/>
<line x1="283.25" y1="488" x2="283.25" y2="655.5" stroke="#000" stroke-opacity="0.035" stroke-width="0.6"/>
<line x1="39.4" y1="628.58" x2="338.6" y2="628.58" stroke="#000" stroke-opacity="0.035" stroke-width="0.6"/>
<line x1="39.4" y1="590.52" x2="338.6" y2="590.52" stroke="#000" stroke-opacity="0.035" stroke-width="0.6"/>
<line x1="39.4" y1="552.48" x2="338.6" y2="552.48" stroke="#000" stroke-opacity="0.035" stroke-width="0.6"/>
<line x1="39.4" y1="514.43" x2="338.6" y2="514.43" stroke="#000" stroke-opacity="0.035" stroke-width="0.6"/>
<line x1="82" y1="488" x2="82" y2="655.5" stroke="#000" stroke-opacity="0.06" stroke-width="0.8"/>
<line x1="139.5" y1="488" x2="139.5" y2="655.5" stroke="#000" stroke-opacity="0.06" stroke-width="0.8"/>
<line x1="197" y1="488" x2="197" y2="655.5" stroke="#000" stroke-opacity="0.06" stroke-width="0.8"/>
<line x1="254.5" y1="488" x2="254.5" y2="655.5" stroke="#000" stroke-opacity="0.06" stroke-width="0.8"/>
<line x1="312" y1="488" x2="312" y2="655.5" stroke="#000" stroke-opacity="0.06" stroke-width="0.8"/>
<line x1="39.4" y1="647.6" x2="338.6" y2="647.6" stroke="#000" stroke-opacity="0.06" stroke-width="0.8"/>
<line x1="39.4" y1="609.55" x2="338.6" y2="609.55" stroke="#000" stroke-opacity="0.06" stroke-width="0.8"/>
<line x1="39.4" y1="571.5" x2="338.6" y2="571.5" stroke="#000" stroke-opacity="0.06" stroke-width="0.8"/>
<line x1="39.4" y1="533.45" x2="338.6" y2="533.45" stroke="#000" stroke-opacity="0.06" stroke-width="0.8"/>
<line x1="39.4" y1="495.4" x2="338.6" y2="495.4" stroke="#000" stroke-opacity="0.06" stroke-width="0.8"/>
<polyline points="63.02,629.79 64.31,629.53 65.59,629.27 66.87,629 68.16,628.73 69.44,628.45 70.72,628.18 72.01,627.89 73.29,627.61 74.57,627.32 75.85,627.02 77.14,626.72 78.42,626.42 79.7,626.11 80.99,625.8 82.27,625.48 83.55,625.16 84.83,624.83 86.12,624.5 87.4,624.17 88.68,623.83 89.97,623.48 91.25,623.13 92.53,622.78 93.81,622.41 95.1,622.05 96.38,621.68 97.66,621.3 98.95,620.92 100.23,620.53 101.51,620.14 102.8,619.74 104.08,619.33 105.36,618.92 106.64,618.5 107.93,618.08 109.21,617.65 110.49,617.22 111.78,616.78 113.06,616.33 114.34,615.87 115.62,615.41 116.91,614.94 118.19,614.47 119.47,613.99 120.76,613.5 122.04,613 123.32,612.5 124.6,611.99 125.89,611.47 127.17,610.95 128.45,610.41 129.74,609.87 131.02,609.33 132.3,608.77 133.59,608.2 134.87,607.63 136.15,607.05 137.43,606.46 138.72,605.86 140,605.26 141.28,604.64 142.57,604.02 143.85,603.39 145.13,602.75 146.41,602.1 147.7,601.44 148.98,600.78 150.26,600.11 151.55,599.43 152.83,598.75 154.11,598.06 155.39,597.36 156.68,596.66 157.96,595.95 159.24,595.24 160.53,594.53 161.81,593.81 163.09,593.09 164.38,592.36 165.66,591.64 166.94,590.91 168.22,590.18 169.51,589.45 170.79,588.72 172.07,588 173.36,587.27 174.64,586.55 175.92,585.83 177.2,585.11 178.49,584.4 179.77,583.69 181.05,582.99 182.34,582.3 183.62,581.61 184.9,580.94 186.18,580.27 187.47,579.61 188.75,578.97 190.03,578.34 191.32,577.72 192.6,577.11 193.88,576.52 195.17,575.95 196.45,575.39 197.73,574.85 199.01,574.34 200.3,573.84 201.58,573.36 202.86,572.9 204.15,572.47 205.43,572.06 206.71,571.68 207.35,571.5 207.99,571.32 209.28,570.99 210.56,570.69 211.84,570.41 213.13,570.16 214.41,569.93 215.69,569.73 216.97,569.55 218.26,569.4 219.54,569.27 220.82,569.16 222.11,569.08 223.39,569.01 224.67,568.97 225.96,568.95 227.24,568.95 228.52,568.97 229.8,569.01 231.09,569.06 232.37,569.14 233.65,569.23 234.94,569.33 236.22,569.45 237.5,569.59 238.78,569.74 240.07,569.9 241.35,570.07 242.63,570.26 243.92,570.45 245.2,570.66 246.48,570.88 247.76,571.1 249.05,571.34 250.33,571.58 251.61,571.82 252.9,572.08 254.18,572.34 255.46,572.6 256.75,572.87 258.03,573.13 259.31,573.41 260.59,573.68 261.88,573.96 263.16,574.23 264.44,574.51 265.73,574.79 267.01,575.06 268.29,575.33 269.57,575.61 270.86,575.88 272.14,576.15 273.42,576.42 274.71,576.69 275.99,576.95 277.27,577.22 278.55,577.49 279.84,577.75 281.12,578.01 282.4,578.28 283.69,578.54 284.97,578.8 286.25,579.06 287.54,579.32 288.82,579.58 290.1,579.83 291.38,580.09 292.67,580.34 293.95,580.6 295.23,580.85 296.52,581.1 297.8,581.35 299.08,581.6 300.36,581.85 301.65,582.1 302.93,582.35 304.21,582.59 305.5,582.84 306.78,583.08 308.06,583.32 309.34,583.57 310.63,583.81 311.91,584.05 313.19,584.29 314.48,584.53 315.76,584.77 317.04,585 318.33,585.24" fill="none" stroke="#565684" stroke-width="1.8" stroke-linejoin="round"/>
<line x1="39.4" y1="571.5" x2="338.6" y2="571.5" stroke="#e2513f" stroke-width="1.2" stroke-dasharray="4.9 4.3"/>
<line x1="207.35" y1="655.5" x2="207.35" y2="488" stroke="#e2513f" stroke-width="1.2" stroke-dasharray="4.9 4.3"/>
<line x1="249.9" y1="655.5" x2="249.9" y2="488" stroke="#e2513f" stroke-width="1.2" stroke-dasharray="4.9 4.3"/>
</g>
<rect x="39.4" y="488" width="299.2" height="167.5" fill="none" stroke="#2b2b2b" stroke-width="1.2"/>
<text x="2.3" y="470.2" font-family='"Liberation Serif", serif' font-weight="bold" font-size="13" fill="#1a1a1a" stroke="#1a1a1a" stroke-width="0.15">E</text>
<text x="39.3" y="480.2" font-family='"Liberation Serif", serif' font-weight="bold" font-size="12.9" fill="#1a1a1a" stroke="#1a1a1a" stroke-width="0.15">PCGrimAge</text>
<text x="46.7" y="498.9" font-family='"Liberation Serif", serif' font-size="10" fill="#1a1a1a" stroke="#1a1a1a" stroke-width="0.22"><tspan font-style="italic">P</tspan><tspan dx="2"> for</tspan> overall = 0.02</text>
<text x="49.1" y="508.7" font-family='"Liberation Serif", serif' font-size="10" fill="#1a1a1a" stroke="#1a1a1a" stroke-width="0.22"><tspan font-style="italic">P</tspan><tspan dx="2"> for</tspan> nonlinearity = 0.04</text>
<text x="179.7" y="548" font-family='"Liberation Serif", serif' font-size="10.2" fill="#1a1a1a" stroke="#1a1a1a" stroke-width="0.2">Ref. slope <tspan fill="#777" stroke="#777">=</tspan> 2.91</text>
<text x="137.2" y="566" font-family='"Liberation Serif", serif' font-size="10.2" fill="#1a1a1a" stroke="#1a1a1a" stroke-width="0.2">Ref. slope <tspan fill="#777" stroke="#777">=</tspan> 2.18</text>
<text x="82" y="666.6" text-anchor="middle" font-family='"Liberation Serif", serif' font-size="9.6" fill="#262626" stroke="#262626" stroke-width="0.2">0</text>
<text x="139.5" y="666.6" text-anchor="middle" font-family='"Liberation Serif", serif' font-size="9.6" fill="#262626" stroke="#262626" stroke-width="0.2">1</text>
<text x="197" y="666.6" text-anchor="middle" font-family='"Liberation Serif", serif' font-size="9.6" fill="#262626" stroke="#262626" stroke-width="0.2">2</text>
<text x="254.5" y="666.6" text-anchor="middle" font-family='"Liberation Serif", serif' font-size="9.6" fill="#262626" stroke="#262626" stroke-width="0.2">3</text>
<text x="312" y="666.6" text-anchor="middle" font-family='"Liberation Serif", serif' font-size="9.6" fill="#262626" stroke="#262626" stroke-width="0.2">4</text>
<text x="35.3" y="651.5" text-anchor="end" font-family='"Liberation Serif", serif' font-size="9.6" fill="#262626" stroke="#262626" stroke-width="0.2">0.0</text>
<text x="35.3" y="613.45" text-anchor="end" font-family='"Liberation Serif", serif' font-size="9.6" fill="#262626" stroke="#262626" stroke-width="0.2">0.5</text>
<text x="35.3" y="575.4" text-anchor="end" font-family='"Liberation Serif", serif' font-size="9.6" fill="#262626" stroke="#262626" stroke-width="0.2">1.0</text>
<text x="35.3" y="537.35" text-anchor="end" font-family='"Liberation Serif", serif' font-size="9.6" fill="#262626" stroke="#262626" stroke-width="0.2">1.5</text>
<text x="35.3" y="499.3" text-anchor="end" font-family='"Liberation Serif", serif' font-size="9.6" fill="#262626" stroke="#262626" stroke-width="0.2">2.0</text>
<text x="189" y="679" text-anchor="middle" font-family='"Liberation Serif", serif' font-weight="bold" font-size="11.5" fill="#1a1a1a" stroke="#1a1a1a" stroke-width="0.12">PCGrimAge slope (scaled)</text>
<text transform="translate(19.2,571.75) rotate(-90)" text-anchor="middle" font-family='"Liberation Serif", serif' font-weight="bold" font-size="11.5" fill="#1a1a1a" stroke="#1a1a1a" stroke-width="0.12">Hazard Ratio per SD (95% CI)</text>
</svg>
</body></html>
